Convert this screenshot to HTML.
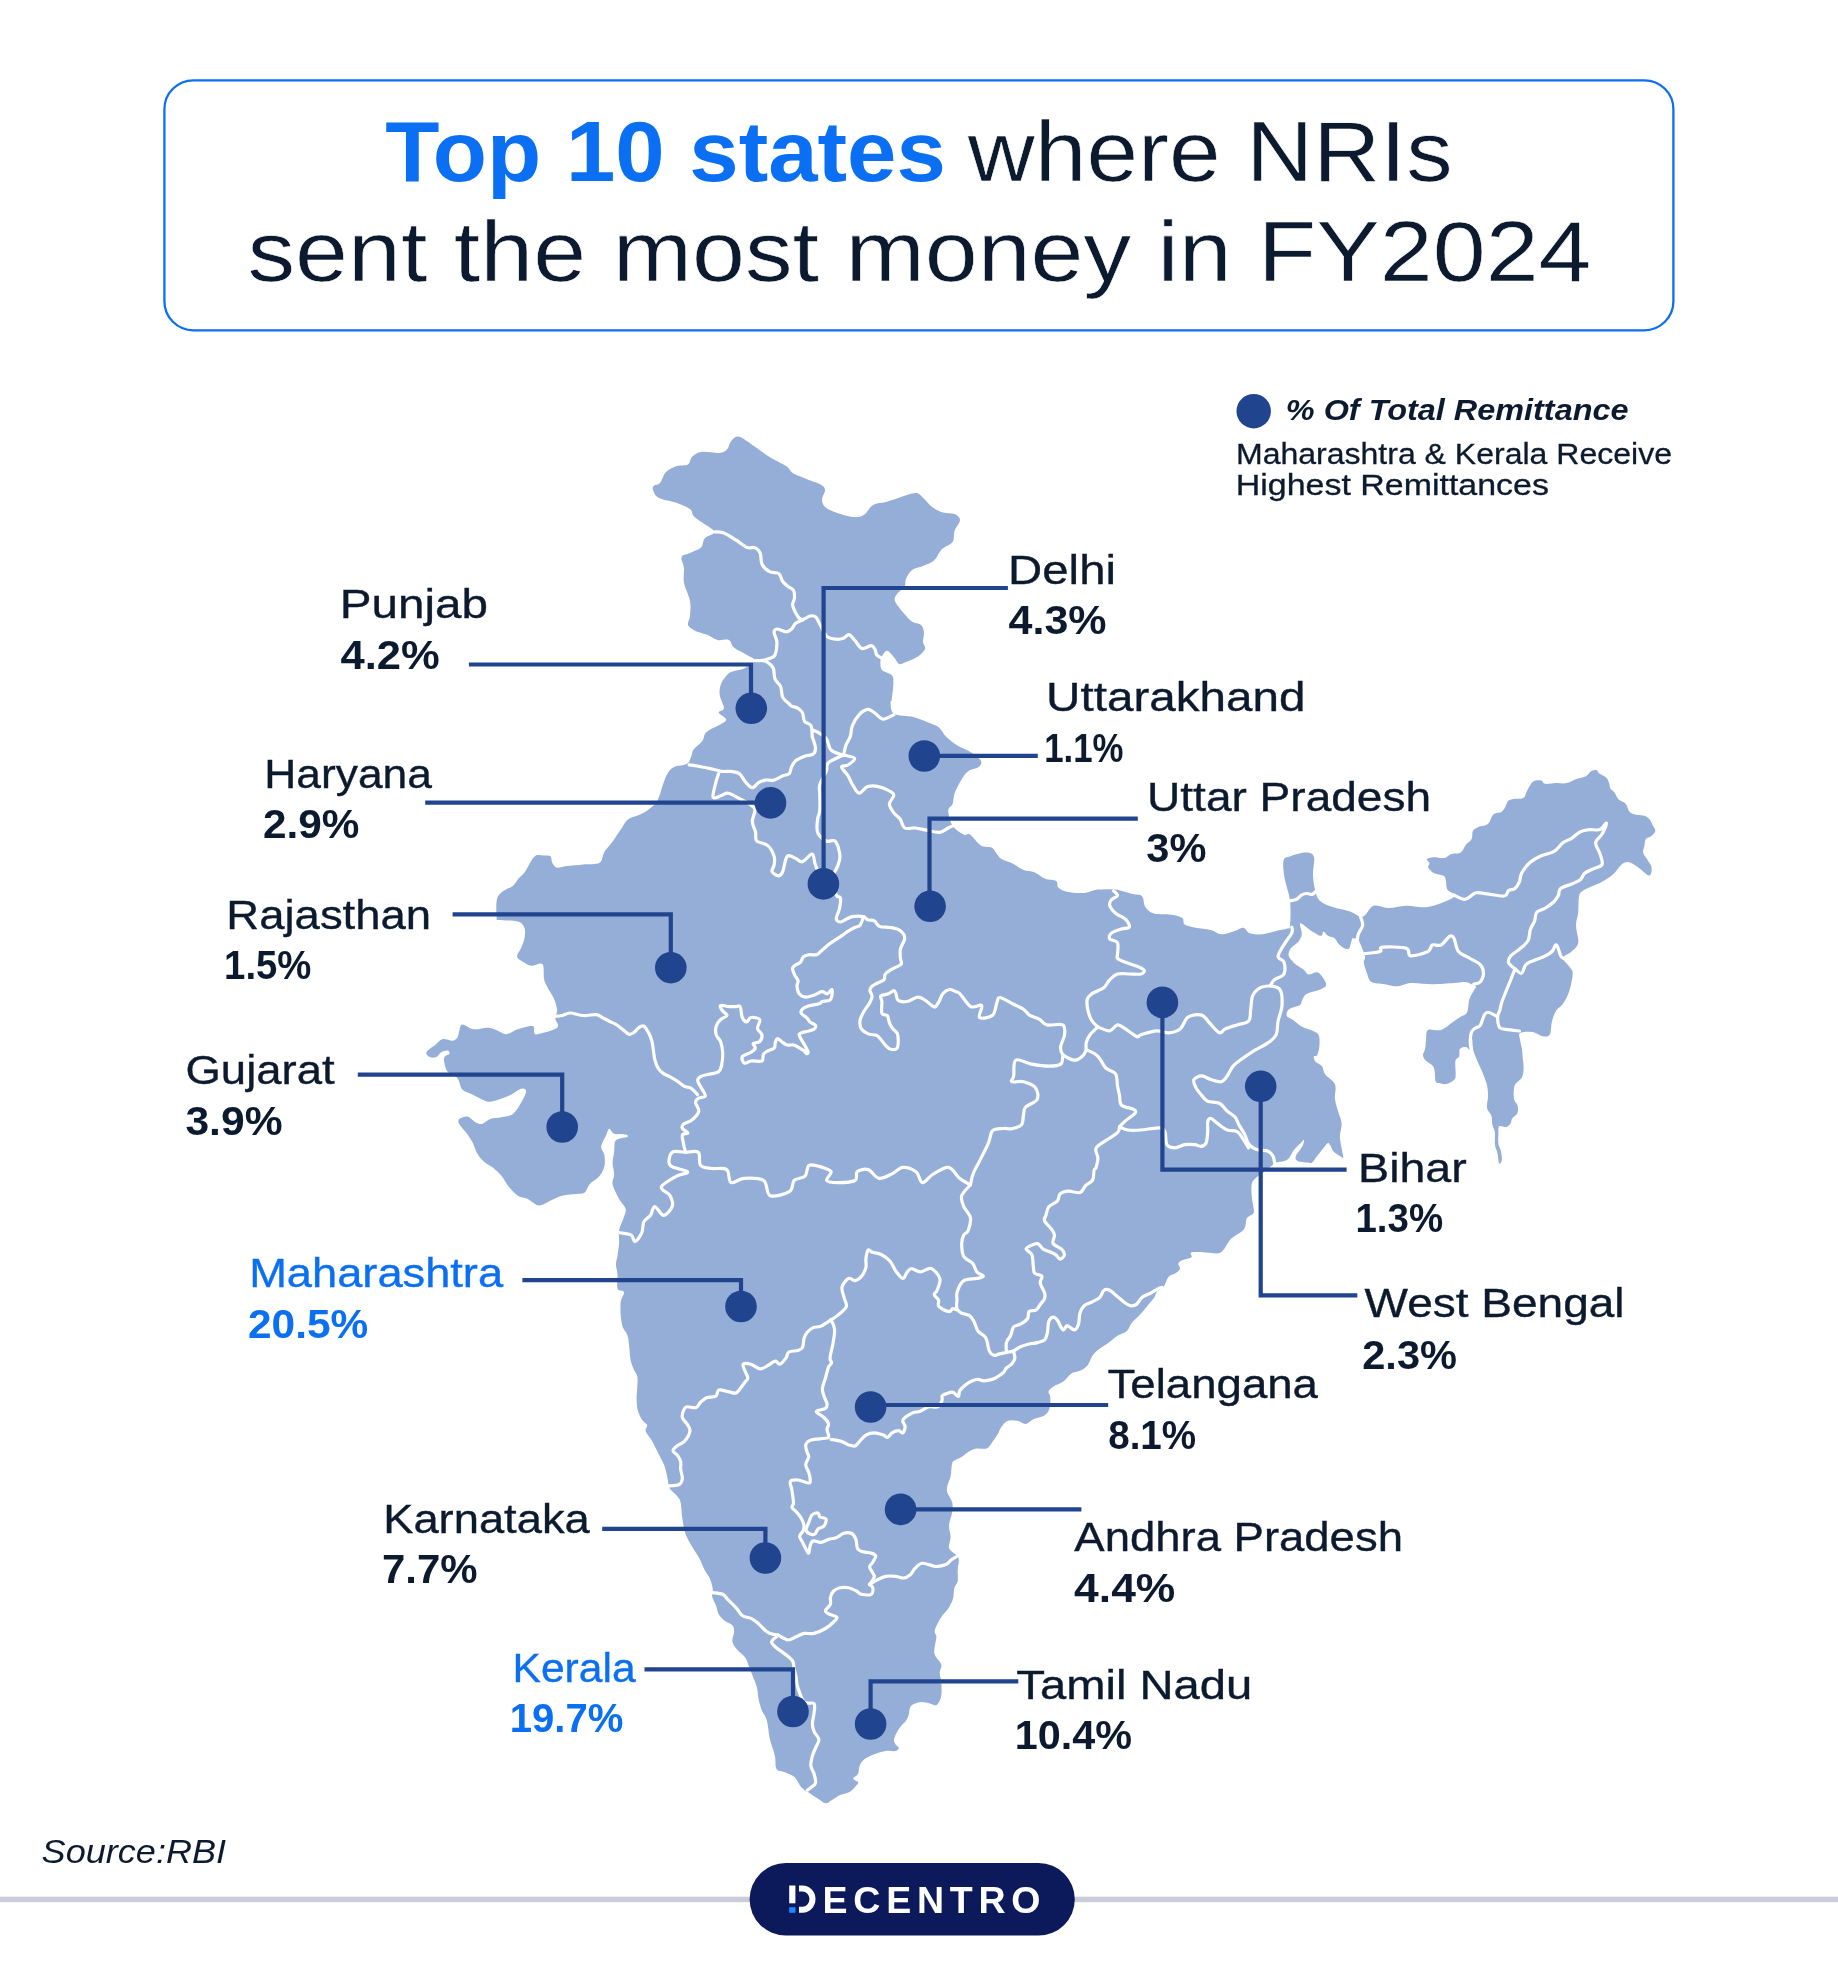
<!DOCTYPE html>
<html><head><meta charset="utf-8"><style>
html,body{margin:0;padding:0;background:#fff;}
body{width:1838px;height:1971px;overflow:hidden;}
svg{display:block;font-family:"Liberation Sans",sans-serif;will-change:transform;}
</style></head><body>
<svg width="1838" height="1971" viewBox="0 0 1838 1971" xmlns="http://www.w3.org/2000/svg">
<rect x="0" y="0" width="1838" height="1971" fill="#fff"/>
<rect x="164.4" y="80.3" width="1509" height="250" rx="29" ry="29" fill="none" stroke="#0b6ef4" stroke-width="2.3"/>
<text x="385.2" y="180.9" font-size="84.6" font-weight="700" fill="#0b6ff3" textLength="560.64" lengthAdjust="spacingAndGlyphs" >Top 10 states</text>
<text x="967.84" y="180.9" font-size="84.6" font-weight="400" fill="#0b1a2e" textLength="484.72" lengthAdjust="spacingAndGlyphs" stroke="#fff" stroke-width="0.6">where NRIs</text>
<text x="247.45" y="280.7" font-size="84.6" font-weight="400" fill="#0b1a2e" textLength="1344.14" lengthAdjust="spacingAndGlyphs" stroke="#fff" stroke-width="0.6">sent the most money in FY2024</text>
<circle cx="1253.7" cy="411.2" r="17.2" fill="#21448f"/>
<text x="1285.83" y="419.7" font-size="30" font-weight="700" font-style="italic" fill="#0b1a2e" textLength="342.67" lengthAdjust="spacingAndGlyphs" >% Of Total Remittance</text>
<text x="1235.97" y="463.8" font-size="28.9" font-weight="400" fill="#0b1a2e" textLength="436.05" lengthAdjust="spacingAndGlyphs" stroke="#0b1a2e" stroke-width="0.3">Maharashtra &amp; Kerala Receive</text>
<text x="1235.82" y="495.4" font-size="28.9" font-weight="400" fill="#0b1a2e" textLength="313.11" lengthAdjust="spacingAndGlyphs" stroke="#0b1a2e" stroke-width="0.3">Highest Remittances</text>
<path d="M738.0,436.6 C741.4,436.9 745.8,440.6 751.0,444.0 C756.2,447.4 763.7,453.3 769.5,457.0 C775.3,460.7 782.0,463.2 786.0,466.0 C790.0,468.8 790.1,471.4 793.5,473.6 C796.9,475.8 801.9,477.1 806.5,479.0 C811.1,480.9 817.9,482.9 821.0,484.7 C824.1,486.5 824.8,487.5 825.0,490.0 C825.2,492.5 822.0,496.7 822.0,499.5 C822.0,502.3 822.7,504.8 825.0,507.0 C827.3,509.2 831.4,510.8 836.0,512.5 C840.6,514.2 848.1,516.6 852.7,517.0 C857.3,517.4 860.4,517.0 863.8,515.0 C867.2,513.0 869.3,507.2 873.0,505.0 C876.7,502.8 881.7,503.2 886.0,502.0 C890.3,500.8 894.1,499.2 899.0,497.7 C903.9,496.2 911.6,493.0 915.6,493.0 C919.6,493.0 920.3,495.4 923.0,497.7 C925.7,500.0 928.7,504.5 932.0,507.0 C935.3,509.5 939.2,511.3 943.0,512.5 C946.8,513.7 951.7,512.8 954.5,514.0 C957.3,515.2 960.0,517.2 960.0,520.0 C960.0,522.8 955.7,527.3 954.5,531.0 C953.3,534.7 954.8,538.9 952.6,542.0 C950.4,545.1 944.6,546.4 941.5,549.5 C938.4,552.6 937.1,557.9 934.0,560.6 C930.9,563.4 926.7,564.4 923.0,566.0 C919.3,567.6 914.8,567.8 912.0,570.0 C909.2,572.2 907.2,576.2 906.0,579.0 C904.8,581.8 906.0,584.0 904.5,586.5 C903.0,589.0 898.6,591.6 897.0,594.0 C895.4,596.4 894.0,598.0 895.0,601.0 C896.0,604.0 899.9,608.6 902.7,612.0 C905.5,615.4 909.0,619.4 912.0,621.6 C915.0,623.8 919.0,623.1 921.0,625.0 C923.0,626.9 923.7,629.9 924.0,632.7 C924.3,635.5 922.8,639.3 923.0,642.0 C923.2,644.7 925.9,646.5 925.0,649.0 C924.1,651.5 920.7,654.6 917.5,656.8 C914.3,659.0 909.1,660.8 906.0,662.0 C902.9,663.2 900.8,664.6 899.0,664.0 C897.2,663.4 896.8,660.8 895.0,658.6 C893.2,656.4 889.8,651.9 888.0,651.0 C886.2,650.1 885.2,651.4 884.0,653.0 C882.8,654.6 880.8,657.7 880.5,660.5 C880.2,663.3 880.1,667.6 882.0,670.0 C883.9,672.4 889.7,672.9 891.6,675.0 C893.5,677.1 893.4,678.5 893.4,682.7 C893.4,686.9 892.1,696.8 891.6,700.0 C891.1,703.2 890.1,699.5 890.5,701.8 C890.9,704.1 890.0,711.2 893.8,713.7 C897.6,716.2 907.2,715.4 913.4,717.0 C919.6,718.6 926.4,721.7 930.8,723.5 C935.1,725.3 937.0,725.7 939.5,727.9 C942.0,730.1 943.1,733.7 946.0,736.6 C948.9,739.5 953.0,742.8 957.0,745.3 C961.0,747.8 966.0,749.3 970.0,751.8 C974.0,754.3 979.3,758.0 980.8,760.5 C982.2,763.0 980.9,765.2 978.7,767.0 C976.5,768.8 970.7,769.2 967.8,771.4 C964.9,773.6 963.5,776.4 961.3,780.0 C959.1,783.6 956.2,789.0 954.7,793.0 C953.2,797.0 953.7,801.1 952.6,804.0 C951.5,806.9 948.2,807.0 948.2,810.6 C948.2,814.2 950.1,821.8 952.6,825.8 C955.1,829.8 960.5,833.0 963.4,834.5 C966.3,836.0 967.1,832.7 970.0,834.5 C972.9,836.3 977.2,843.2 980.8,845.4 C984.4,847.6 988.9,846.0 991.7,847.6 C994.5,849.2 995.7,852.9 997.4,854.8 C999.1,856.7 999.3,857.8 1001.8,859.2 C1004.3,860.7 1009.0,861.7 1012.6,863.5 C1016.2,865.3 1019.9,868.5 1023.5,870.0 C1027.1,871.5 1030.8,870.7 1034.4,872.2 C1038.0,873.7 1041.7,877.3 1045.3,878.8 C1048.9,880.3 1054.0,879.5 1056.2,881.0 C1058.4,882.5 1056.5,885.7 1058.3,887.5 C1060.1,889.3 1062.6,890.9 1067.0,891.8 C1071.4,892.7 1079.4,893.3 1084.5,892.9 C1089.6,892.5 1092.4,890.1 1097.5,889.6 C1102.6,889.1 1109.2,888.9 1115.0,889.6 C1120.8,890.3 1127.8,892.9 1132.3,894.0 C1136.8,895.1 1139.8,894.0 1142.0,896.2 C1144.2,898.4 1143.4,904.1 1145.4,907.0 C1147.4,909.9 1149.7,912.3 1154.0,913.6 C1158.3,914.9 1166.8,914.0 1171.5,914.7 C1176.2,915.4 1180.2,916.4 1182.4,918.0 C1184.6,919.6 1182.4,922.9 1184.6,924.5 C1186.8,926.1 1191.1,926.8 1195.4,927.7 C1199.8,928.6 1206.3,928.9 1210.7,930.0 C1215.1,931.1 1217.6,934.1 1221.6,934.3 C1225.6,934.5 1231.0,932.1 1234.6,931.0 C1238.2,929.9 1240.8,927.3 1243.3,927.7 C1245.8,928.1 1246.6,932.1 1249.9,933.2 C1253.2,934.3 1258.7,934.7 1263.0,934.3 C1267.3,933.9 1272.0,931.9 1276.0,931.0 C1280.0,930.1 1284.6,929.7 1286.9,928.8 C1289.2,927.9 1289.5,930.2 1290.0,925.5 C1290.5,920.8 1290.9,908.3 1290.0,900.5 C1289.1,892.7 1285.8,885.5 1284.7,878.8 C1283.6,872.1 1282.5,864.1 1283.6,860.3 C1284.7,856.5 1287.4,857.2 1291.2,855.9 C1295.0,854.6 1302.6,852.4 1306.4,852.6 C1310.2,852.8 1312.9,853.4 1314.0,857.0 C1315.1,860.6 1312.8,869.0 1313.0,874.4 C1313.2,879.8 1313.9,885.2 1315.0,889.6 C1316.1,894.0 1316.6,897.6 1319.5,900.5 C1322.4,903.4 1327.5,905.2 1332.6,907.0 C1337.7,908.8 1345.0,909.8 1350.0,911.4 C1355.0,913.0 1358.8,917.6 1362.7,916.7 C1366.6,915.8 1369.2,907.2 1373.6,905.8 C1377.9,904.3 1383.4,908.0 1388.8,908.0 C1394.2,908.0 1399.7,906.0 1406.2,905.8 C1412.7,905.6 1420.0,908.4 1428.0,906.9 C1436.0,905.4 1450.8,900.0 1454.0,897.0 C1457.2,894.0 1448.6,892.1 1447.2,889.2 C1445.8,886.3 1446.5,882.0 1445.8,879.7 C1445.1,877.4 1445.1,876.7 1443.1,875.6 C1441.1,874.5 1436.1,874.2 1433.6,872.9 C1431.1,871.5 1428.9,869.1 1428.2,867.5 C1427.5,865.9 1429.7,864.8 1429.5,863.4 C1429.3,862.0 1426.1,860.3 1426.8,859.3 C1427.5,858.3 1430.6,857.5 1433.6,857.3 C1436.5,857.1 1441.5,858.5 1444.5,857.9 C1447.5,857.3 1448.6,854.8 1451.3,853.9 C1454.0,853.0 1458.3,854.1 1460.8,852.5 C1463.3,850.9 1464.4,846.6 1466.2,844.3 C1468.0,842.0 1470.6,841.2 1471.7,838.9 C1472.8,836.6 1471.7,832.8 1473.0,830.7 C1474.3,828.7 1477.3,827.7 1479.8,826.6 C1482.3,825.5 1485.7,825.9 1488.0,823.9 C1490.3,821.9 1491.1,816.4 1493.4,814.4 C1495.7,812.4 1499.5,813.1 1501.6,811.7 C1503.6,810.3 1504.6,808.0 1505.7,806.2 C1506.8,804.4 1506.8,802.0 1508.4,800.8 C1510.0,799.6 1512.7,799.2 1515.2,798.8 C1517.7,798.3 1521.4,799.6 1523.4,798.1 C1525.5,796.6 1525.9,792.6 1527.5,789.9 C1529.1,787.2 1530.6,783.4 1532.9,781.8 C1535.2,780.2 1539.1,780.1 1541.1,780.4 C1543.1,780.7 1542.6,783.3 1545.1,783.8 C1547.6,784.2 1552.4,783.2 1556.0,783.1 C1559.6,783.0 1563.5,783.8 1566.9,783.1 C1570.3,782.4 1573.2,780.1 1576.4,779.0 C1579.6,777.9 1583.4,777.6 1585.9,776.3 C1588.4,774.9 1589.6,771.9 1591.4,770.9 C1593.2,769.9 1595.5,769.8 1596.8,770.2 C1598.1,770.7 1597.9,772.4 1599.5,773.6 C1601.1,774.9 1604.8,776.1 1606.4,777.7 C1608.0,779.3 1608.4,781.3 1609.1,783.1 C1609.8,784.9 1609.5,787.0 1610.4,788.6 C1611.3,790.2 1613.1,790.8 1614.5,792.6 C1615.9,794.4 1616.8,797.6 1618.6,799.4 C1620.4,801.2 1623.6,801.5 1625.4,803.5 C1627.2,805.5 1627.9,809.9 1629.5,811.7 C1631.1,813.5 1632.4,813.7 1634.9,814.4 C1637.4,815.1 1641.9,814.9 1644.4,815.8 C1646.9,816.7 1648.5,818.2 1649.9,819.8 C1651.3,821.4 1651.7,823.5 1652.6,825.3 C1653.5,827.1 1655.5,828.9 1655.3,830.7 C1655.1,832.5 1652.8,834.8 1651.2,836.2 C1649.6,837.6 1646.9,837.3 1645.8,838.9 C1644.7,840.5 1644.9,843.4 1644.4,845.7 C1644.0,848.0 1642.6,850.2 1643.1,852.5 C1643.5,854.8 1645.8,857.0 1647.1,859.3 C1648.4,861.6 1650.5,863.8 1651.2,866.1 C1651.9,868.4 1651.7,871.3 1651.2,872.9 C1650.8,874.5 1649.8,875.8 1648.5,875.6 C1647.2,875.4 1645.1,873.1 1643.1,871.5 C1641.1,869.9 1638.8,867.7 1636.3,866.1 C1633.8,864.5 1630.6,862.2 1628.1,862.0 C1625.6,861.8 1623.6,862.9 1621.3,864.7 C1619.0,866.5 1616.8,870.6 1614.5,872.9 C1612.2,875.2 1610.0,876.7 1607.7,878.3 C1605.4,879.9 1603.6,881.0 1600.9,882.4 C1598.2,883.8 1594.4,885.1 1591.4,886.5 C1588.5,887.9 1585.2,889.0 1583.2,890.6 C1581.2,892.2 1579.9,892.4 1579.1,896.0 C1578.3,899.6 1578.7,907.4 1578.2,912.3 C1577.7,917.2 1576.0,920.3 1576.0,925.4 C1576.0,930.5 1578.9,938.4 1578.2,942.8 C1577.5,947.1 1574.1,949.0 1571.6,951.5 C1569.1,954.0 1563.4,955.5 1563.0,958.0 C1562.6,960.5 1567.8,964.2 1569.4,966.7 C1571.0,969.2 1572.7,969.3 1572.7,973.3 C1572.7,977.3 1571.0,985.6 1569.4,990.7 C1567.8,995.8 1565.2,1000.4 1563.0,1003.7 C1560.8,1007.0 1558.2,1007.4 1556.4,1010.3 C1554.6,1013.2 1553.1,1017.2 1552.0,1021.2 C1550.9,1025.2 1551.4,1031.7 1549.9,1034.2 C1548.5,1036.7 1546.2,1036.8 1543.3,1036.4 C1540.4,1036.0 1536.3,1032.6 1532.4,1032.0 C1528.5,1031.4 1522.1,1031.7 1520.1,1033.0 C1518.0,1034.3 1519.8,1037.4 1520.1,1040.0 C1520.4,1042.6 1521.5,1045.8 1521.9,1048.7 C1522.3,1051.6 1522.4,1054.1 1522.7,1057.4 C1523.0,1060.7 1523.7,1065.4 1523.6,1068.7 C1523.5,1072.0 1523.2,1074.9 1521.9,1077.4 C1520.6,1079.9 1517.1,1081.6 1515.8,1083.5 C1514.5,1085.4 1514.3,1086.1 1514.0,1088.7 C1513.7,1091.3 1513.4,1096.4 1514.0,1099.2 C1514.6,1102.0 1516.9,1103.0 1517.5,1105.3 C1518.1,1107.6 1518.4,1110.9 1517.5,1113.1 C1516.6,1115.3 1513.5,1116.5 1512.3,1118.3 C1511.1,1120.0 1511.6,1122.1 1510.6,1123.6 C1509.6,1125.0 1508.1,1126.6 1506.2,1127.0 C1504.3,1127.4 1500.5,1125.3 1499.2,1126.2 C1497.9,1127.1 1498.5,1129.4 1498.4,1132.3 C1498.3,1135.2 1498.0,1140.4 1498.4,1143.6 C1498.8,1146.8 1500.4,1148.7 1501.0,1151.4 C1501.6,1154.1 1502.1,1158.0 1501.8,1160.0 C1501.5,1162.0 1499.9,1164.7 1499.2,1163.6 C1498.5,1162.5 1498.2,1156.4 1497.5,1153.2 C1496.8,1150.0 1495.3,1148.0 1494.9,1144.5 C1494.5,1141.0 1495.3,1135.6 1494.9,1132.3 C1494.5,1129.0 1492.9,1127.2 1492.3,1124.4 C1491.7,1121.6 1492.3,1118.4 1491.4,1115.7 C1490.5,1113.0 1487.6,1111.2 1487.0,1108.0 C1486.4,1104.8 1488.0,1100.4 1488.0,1096.6 C1488.0,1092.8 1487.9,1089.2 1487.0,1085.3 C1486.1,1081.4 1484.4,1077.3 1482.7,1073.0 C1481.0,1068.7 1478.2,1063.1 1476.6,1059.2 C1475.0,1055.3 1473.8,1052.8 1473.1,1049.6 C1472.4,1046.4 1472.6,1042.3 1472.3,1040.0 C1472.0,1037.7 1471.6,1036.0 1471.0,1036.0 C1470.4,1036.0 1469.0,1037.7 1468.8,1040.0 C1468.6,1042.3 1470.0,1048.4 1469.6,1049.6 C1469.2,1050.8 1467.8,1047.2 1466.2,1047.0 C1464.6,1046.8 1461.2,1047.1 1460.0,1048.7 C1458.8,1050.3 1459.9,1054.6 1459.2,1056.5 C1458.5,1058.4 1456.4,1058.4 1455.7,1060.0 C1455.0,1061.6 1455.3,1063.5 1455.3,1066.0 C1455.3,1068.5 1455.9,1072.5 1455.7,1074.8 C1455.5,1077.1 1455.6,1078.5 1454.0,1080.0 C1452.4,1081.5 1448.6,1083.5 1446.1,1084.0 C1443.6,1084.5 1440.9,1083.4 1439.2,1083.0 C1437.5,1082.6 1436.4,1083.5 1435.7,1081.8 C1435.0,1080.1 1435.2,1075.6 1434.8,1073.0 C1434.3,1070.4 1434.6,1068.2 1433.0,1066.0 C1431.4,1063.8 1426.9,1061.9 1425.2,1060.0 C1423.5,1058.1 1423.0,1056.7 1423.0,1054.8 C1423.0,1052.9 1424.7,1051.2 1425.2,1048.7 C1425.7,1046.2 1425.5,1043.1 1426.0,1040.0 C1426.5,1036.9 1425.5,1031.6 1428.0,1029.9 C1430.5,1028.2 1436.7,1031.4 1441.0,1029.9 C1445.3,1028.5 1450.7,1023.4 1454.0,1021.2 C1457.3,1019.0 1458.4,1018.2 1460.6,1016.8 C1462.8,1015.3 1465.5,1015.4 1467.0,1012.5 C1468.5,1009.6 1468.2,1003.0 1469.3,999.4 C1470.4,995.8 1472.6,992.9 1473.7,990.7 C1474.8,988.5 1476.3,987.4 1475.9,986.3 C1475.5,985.2 1473.3,984.9 1471.5,984.2 C1469.7,983.5 1467.9,982.2 1465.0,982.0 C1462.1,981.8 1459.5,982.6 1454.0,983.0 C1448.5,983.4 1439.5,984.2 1432.3,984.2 C1425.1,984.2 1416.4,982.6 1410.6,983.0 C1404.8,983.4 1401.8,986.1 1397.5,986.3 C1393.2,986.5 1388.8,984.9 1384.5,984.2 C1380.2,983.5 1374.3,983.8 1371.4,982.0 C1368.5,980.2 1368.3,976.6 1367.0,973.3 C1365.7,970.0 1364.1,965.3 1363.8,962.4 C1363.5,959.5 1365.8,959.6 1364.9,955.9 C1364.0,952.2 1360.2,942.9 1358.4,940.0 C1356.6,937.1 1355.0,938.7 1354.0,938.4 C1353.0,938.1 1352.9,937.4 1352.3,938.4 C1351.7,939.4 1351.1,942.8 1350.5,944.5 C1349.9,946.2 1350.0,948.2 1348.8,948.8 C1347.6,949.4 1345.3,948.9 1343.6,948.0 C1341.8,947.1 1339.8,945.2 1338.3,943.6 C1336.8,942.0 1336.6,939.7 1334.9,938.4 C1333.2,937.1 1329.9,937.0 1328.0,935.8 C1326.1,934.6 1324.7,931.4 1323.5,931.4 C1322.3,931.4 1322.9,935.8 1321.0,935.8 C1319.1,935.8 1314.8,933.0 1312.2,931.4 C1309.6,929.8 1307.3,927.5 1305.3,926.2 C1303.3,924.9 1300.6,922.3 1300.0,923.6 C1299.4,924.9 1302.1,931.0 1301.8,934.0 C1301.5,937.0 1300.2,939.3 1298.3,941.8 C1296.4,944.3 1292.1,946.5 1290.5,948.8 C1288.9,951.1 1288.3,953.6 1288.7,955.8 C1289.1,958.0 1291.6,960.2 1293.1,961.9 C1294.6,963.6 1295.8,964.4 1297.7,965.8 C1299.6,967.2 1302.5,968.8 1304.3,970.2 C1306.1,971.7 1306.4,974.1 1308.6,974.5 C1310.8,974.9 1314.8,971.6 1317.3,972.3 C1319.8,973.0 1322.3,976.7 1323.8,978.9 C1325.2,981.1 1326.7,983.6 1326.0,985.4 C1325.3,987.2 1322.8,988.3 1319.5,989.7 C1316.2,991.1 1309.3,992.2 1306.4,994.0 C1303.5,995.8 1303.1,998.8 1302.0,1000.6 C1300.9,1002.4 1302.2,1003.5 1300.0,1005.0 C1297.8,1006.5 1291.2,1007.5 1289.0,1009.3 C1286.8,1011.1 1286.1,1014.1 1286.8,1015.9 C1287.5,1017.7 1290.9,1018.4 1293.4,1020.2 C1295.9,1022.0 1298.0,1024.5 1302.0,1026.7 C1306.0,1028.9 1314.4,1030.4 1317.3,1033.3 C1320.2,1036.2 1319.5,1040.6 1319.5,1044.2 C1319.5,1047.8 1318.2,1053.0 1317.3,1055.0 C1316.3,1057.0 1314.1,1055.4 1313.8,1056.5 C1313.5,1057.6 1314.0,1059.8 1315.4,1061.4 C1316.8,1063.0 1320.4,1064.1 1322.0,1066.3 C1323.6,1068.5 1323.0,1071.5 1325.2,1074.5 C1327.4,1077.5 1333.4,1080.2 1335.0,1084.3 C1336.6,1088.4 1334.5,1094.4 1335.0,1099.0 C1335.5,1103.6 1337.2,1107.9 1338.3,1112.0 C1339.4,1116.1 1341.3,1119.3 1341.6,1123.4 C1341.9,1127.5 1339.9,1132.4 1339.9,1136.5 C1339.9,1140.6 1341.0,1144.5 1341.6,1148.0 C1342.1,1151.5 1343.5,1156.4 1343.2,1157.7 C1342.9,1159.0 1341.5,1157.2 1339.9,1156.1 C1338.3,1155.0 1335.3,1153.4 1333.4,1151.2 C1331.5,1149.0 1330.1,1143.5 1328.5,1143.0 C1326.9,1142.5 1325.5,1145.7 1323.6,1147.9 C1321.7,1150.1 1319.0,1153.6 1317.1,1156.1 C1315.2,1158.5 1313.8,1161.5 1312.2,1162.6 C1310.6,1163.7 1309.8,1162.9 1307.3,1162.6 C1304.8,1162.3 1299.4,1162.1 1297.5,1161.0 C1295.6,1159.9 1295.1,1158.5 1295.9,1156.1 C1296.7,1153.6 1301.1,1149.0 1302.4,1146.3 C1303.8,1143.6 1304.3,1140.3 1304.0,1139.8 C1303.7,1139.2 1302.3,1141.4 1300.7,1143.0 C1299.1,1144.6 1296.1,1147.1 1294.2,1149.6 C1292.3,1152.0 1290.9,1155.8 1289.3,1157.7 C1287.7,1159.6 1286.6,1160.2 1284.4,1161.0 C1282.2,1161.8 1278.5,1161.8 1276.3,1162.6 C1274.1,1163.4 1273.6,1164.3 1271.4,1165.9 C1269.2,1167.5 1265.7,1170.5 1263.2,1172.4 C1260.8,1174.3 1258.6,1175.4 1256.7,1177.3 C1254.8,1179.2 1252.6,1180.5 1251.8,1183.8 C1251.0,1187.1 1251.5,1193.1 1251.8,1196.9 C1252.1,1200.7 1253.1,1204.0 1253.4,1206.7 C1253.7,1209.4 1254.5,1211.3 1253.4,1213.2 C1252.3,1215.1 1248.2,1215.9 1246.9,1218.1 C1245.6,1220.3 1246.1,1224.1 1245.3,1226.3 C1244.5,1228.5 1244.5,1229.0 1242.0,1231.2 C1239.5,1233.4 1234.1,1235.8 1230.6,1239.3 C1227.1,1242.8 1224.9,1250.2 1220.8,1252.4 C1216.7,1254.6 1211.0,1252.4 1206.1,1252.4 C1201.2,1252.4 1193.9,1251.6 1191.4,1252.4 C1189.0,1253.2 1193.0,1256.0 1191.4,1257.3 C1189.8,1258.6 1183.8,1259.4 1181.6,1260.5 C1179.4,1261.6 1178.6,1262.4 1178.3,1263.8 C1178.0,1265.2 1180.5,1267.1 1180.0,1268.7 C1179.5,1270.3 1177.0,1272.2 1175.1,1273.6 C1173.2,1275.0 1170.4,1274.7 1168.5,1276.9 C1166.6,1279.1 1165.6,1284.2 1163.7,1286.7 C1161.8,1289.2 1158.7,1289.7 1157.1,1291.6 C1155.5,1293.5 1155.8,1295.4 1153.9,1298.1 C1152.0,1300.8 1148.0,1305.1 1145.7,1307.9 C1143.4,1310.7 1142.2,1312.2 1139.9,1314.7 C1137.6,1317.2 1134.0,1320.1 1131.8,1322.8 C1129.6,1325.5 1129.4,1328.8 1126.9,1331.0 C1124.5,1333.2 1120.1,1334.0 1117.1,1335.9 C1114.1,1337.8 1111.9,1340.2 1108.9,1342.4 C1105.9,1344.6 1101.8,1346.8 1099.1,1349.0 C1096.4,1351.2 1094.5,1352.8 1092.6,1355.5 C1090.7,1358.2 1089.6,1362.8 1087.7,1365.3 C1085.8,1367.8 1083.9,1368.8 1081.2,1370.2 C1078.5,1371.6 1074.4,1371.5 1071.4,1373.4 C1068.4,1375.3 1066.2,1379.4 1063.2,1381.6 C1060.2,1383.8 1055.9,1384.9 1053.4,1386.5 C1051.0,1388.1 1049.0,1389.8 1048.5,1391.4 C1048.0,1393.0 1049.9,1394.1 1050.2,1396.3 C1050.5,1398.5 1050.5,1402.0 1050.2,1404.5 C1049.9,1407.0 1049.6,1409.1 1048.5,1411.0 C1047.4,1412.9 1046.0,1414.6 1043.6,1415.9 C1041.1,1417.2 1036.8,1417.8 1033.8,1419.1 C1030.8,1420.4 1028.4,1423.7 1025.7,1424.0 C1023.0,1424.3 1020.5,1421.3 1017.5,1420.8 C1014.5,1420.3 1010.4,1419.7 1007.7,1420.8 C1005.0,1421.9 1002.8,1425.1 1001.2,1427.3 C999.6,1429.5 999.5,1431.1 997.9,1433.8 C996.3,1436.5 993.3,1441.1 991.4,1443.6 C989.5,1446.0 989.0,1447.7 986.5,1448.5 C984.0,1449.3 979.7,1448.0 976.7,1448.5 C973.7,1449.0 971.0,1450.4 968.5,1451.8 C966.0,1453.2 964.2,1455.3 962.0,1456.7 C959.8,1458.1 957.1,1458.9 955.5,1460.0 C953.9,1461.1 953.0,1460.5 952.2,1463.2 C951.4,1465.9 951.4,1472.5 950.6,1476.3 C949.8,1480.1 947.8,1483.4 947.3,1486.1 C946.8,1488.8 946.5,1489.9 947.3,1492.6 C948.1,1495.3 951.4,1499.1 952.2,1502.4 C953.0,1505.7 952.7,1508.4 952.2,1512.2 C951.7,1516.0 949.3,1521.1 949.0,1525.2 C948.7,1529.3 950.6,1532.9 950.6,1536.7 C950.6,1540.5 948.2,1545.1 949.0,1548.1 C949.8,1551.1 953.9,1552.7 955.5,1554.6 C957.1,1556.5 958.4,1557.0 958.8,1559.5 C959.2,1562.0 957.9,1566.2 957.7,1569.8 C957.5,1573.4 958.2,1578.2 957.7,1581.2 C957.2,1584.2 955.2,1584.7 954.4,1587.7 C953.6,1590.7 953.9,1595.7 952.8,1599.2 C951.7,1602.8 949.8,1606.0 947.9,1609.0 C946.0,1612.0 943.5,1613.6 941.3,1617.1 C939.1,1620.6 935.6,1626.9 934.8,1630.2 C934.0,1633.5 936.4,1634.0 936.4,1636.7 C936.4,1639.4 935.1,1643.5 934.8,1646.5 C934.5,1649.5 933.7,1651.7 934.8,1654.7 C935.9,1657.7 940.5,1661.5 941.3,1664.5 C942.1,1667.5 939.7,1669.6 939.7,1672.6 C939.7,1675.6 941.0,1678.6 941.3,1682.4 C941.6,1686.2 941.8,1692.0 941.3,1695.5 C940.8,1699.0 939.2,1702.0 938.1,1703.6 C937.0,1705.2 936.2,1705.3 934.8,1705.3 C933.4,1705.3 932.1,1704.1 929.9,1703.6 C927.7,1703.0 924.2,1702.0 921.8,1702.0 C919.3,1702.0 917.1,1702.8 915.2,1703.6 C913.3,1704.4 911.4,1705.0 910.3,1706.9 C909.2,1708.8 909.5,1712.5 908.7,1715.0 C907.9,1717.5 906.5,1720.0 905.4,1721.6 C904.3,1723.2 903.6,1723.2 902.2,1724.8 C900.9,1726.4 898.7,1729.0 897.3,1731.4 C895.9,1733.9 894.3,1737.3 894.0,1739.5 C893.7,1741.7 894.8,1743.0 895.6,1744.4 C896.4,1745.8 898.9,1746.6 898.9,1747.7 C898.9,1748.8 897.8,1750.5 895.6,1751.0 C893.4,1751.5 889.4,1750.5 885.9,1751.0 C882.4,1751.5 877.9,1752.9 874.4,1754.2 C870.9,1755.5 867.0,1757.2 864.6,1759.1 C862.2,1761.0 860.8,1763.1 859.7,1765.6 C858.6,1768.0 859.2,1771.6 858.1,1773.8 C857.0,1776.0 853.2,1777.3 853.2,1778.7 C853.2,1780.1 857.6,1780.9 858.1,1782.0 C858.6,1783.1 857.9,1783.6 856.5,1785.2 C855.1,1786.8 852.7,1790.2 850.0,1791.8 C847.3,1793.4 843.2,1793.7 840.2,1795.0 C837.2,1796.3 834.5,1798.5 832.0,1799.9 C829.5,1801.3 828.0,1803.5 825.5,1803.2 C823.0,1802.9 820.3,1800.2 817.3,1798.3 C814.3,1796.4 810.2,1793.7 807.5,1791.8 C804.8,1789.9 803.2,1789.4 801.0,1786.9 C798.8,1784.5 797.2,1779.5 794.5,1777.1 C791.8,1774.6 787.7,1773.6 784.7,1772.2 C781.7,1770.8 778.1,1771.6 776.5,1768.9 C774.9,1766.2 776.0,1760.8 774.9,1755.9 C773.8,1751.0 771.4,1745.5 770.0,1739.5 C768.6,1733.5 768.1,1724.9 766.7,1720.0 C765.3,1715.1 763.2,1713.8 761.8,1710.2 C760.4,1706.7 759.3,1702.5 758.5,1698.7 C757.7,1694.9 758.0,1691.4 756.9,1687.3 C755.8,1683.2 753.4,1677.7 752.0,1674.2 C750.6,1670.7 749.9,1668.8 748.8,1666.1 C747.7,1663.4 747.4,1660.6 745.5,1657.9 C743.6,1655.2 739.5,1652.5 737.3,1649.8 C735.1,1647.1 732.9,1644.6 732.4,1641.6 C731.9,1638.6 734.1,1634.5 734.1,1631.8 C734.1,1629.1 734.0,1627.2 732.4,1625.3 C730.8,1623.4 726.6,1622.3 724.3,1620.4 C722.0,1618.5 720.0,1616.4 718.6,1613.9 C717.2,1611.5 717.2,1608.7 716.1,1605.7 C715.0,1602.7 712.5,1598.6 712.0,1595.9 C711.5,1593.2 713.1,1592.2 712.8,1589.4 C712.5,1586.6 711.4,1582.3 710.0,1579.0 C708.6,1575.7 706.3,1573.3 704.5,1569.8 C702.7,1566.2 701.2,1561.8 699.0,1557.7 C696.8,1553.7 693.7,1549.6 691.4,1545.5 C689.1,1541.4 686.8,1537.9 685.3,1533.3 C683.8,1528.7 683.1,1523.1 682.3,1518.0 C681.5,1512.9 681.5,1506.3 680.7,1502.8 C679.9,1499.2 679.5,1499.0 677.7,1496.7 C675.9,1494.4 671.6,1491.1 670.1,1489.1 C668.6,1487.1 669.1,1486.8 668.6,1484.5 C668.1,1482.2 667.8,1478.7 667.0,1475.4 C666.2,1472.1 665.5,1468.5 664.0,1464.7 C662.5,1460.9 659.9,1456.5 657.9,1452.5 C655.9,1448.5 653.8,1444.0 651.8,1440.4 C649.8,1436.9 646.5,1433.8 645.7,1431.2 C644.9,1428.7 647.7,1426.9 647.2,1425.1 C646.7,1423.3 644.2,1422.8 642.7,1420.5 C641.2,1418.2 639.1,1415.0 638.1,1411.4 C637.1,1407.9 636.7,1403.3 636.6,1399.2 C636.5,1395.1 637.2,1390.8 637.3,1387.0 C637.4,1383.2 637.9,1379.4 637.3,1376.4 C636.7,1373.4 634.6,1371.6 633.5,1368.8 C632.4,1366.0 631.2,1363.7 630.5,1359.6 C629.8,1355.5 629.5,1348.5 629.0,1344.4 C628.5,1340.3 628.4,1338.0 627.4,1335.2 C626.4,1332.4 623.9,1330.1 622.9,1327.6 C621.9,1325.1 621.7,1322.1 621.3,1320.0 C620.9,1317.9 620.8,1317.8 620.7,1314.8 C620.6,1311.8 620.2,1305.6 620.7,1301.8 C621.2,1298.0 624.5,1294.2 624.0,1292.0 C623.5,1289.8 618.6,1291.7 617.5,1288.7 C616.4,1285.7 617.8,1278.1 617.5,1274.0 C617.2,1269.9 615.9,1267.2 615.9,1264.2 C615.9,1261.2 617.0,1259.5 617.5,1256.0 C618.0,1252.5 618.8,1247.3 619.1,1243.0 C619.4,1238.7 618.3,1234.3 619.1,1230.0 C619.9,1225.7 622.9,1220.5 624.0,1216.9 C625.1,1213.4 626.4,1211.7 625.6,1208.7 C624.8,1205.7 621.3,1203.0 619.1,1198.9 C616.9,1194.8 613.4,1188.3 612.6,1184.2 C611.8,1180.1 614.2,1178.0 614.2,1174.5 C614.2,1171.0 612.6,1166.8 612.6,1163.0 C612.6,1159.2 613.7,1155.4 614.2,1151.6 C614.8,1147.8 613.7,1142.7 615.9,1140.2 C618.1,1137.8 625.7,1137.9 627.3,1136.9 C628.9,1136.0 627.8,1135.0 625.6,1134.5 C623.4,1134.0 616.9,1134.7 614.2,1133.7 C611.5,1132.8 610.6,1128.5 609.3,1128.8 C607.9,1129.1 607.5,1132.3 606.1,1135.3 C604.8,1138.3 601.5,1143.4 601.2,1146.7 C600.9,1150.0 603.9,1151.6 604.4,1154.9 C604.9,1158.2 605.2,1162.8 604.4,1166.3 C603.6,1169.8 602.0,1173.1 599.5,1176.1 C597.0,1179.1 592.2,1181.5 589.7,1184.2 C587.2,1186.9 587.0,1190.8 584.8,1192.4 C582.6,1194.0 580.5,1193.5 576.7,1194.0 C572.9,1194.5 566.4,1194.6 562.0,1195.7 C557.6,1196.8 554.4,1199.0 550.6,1200.6 C546.8,1202.2 542.9,1205.8 539.1,1205.5 C535.3,1205.2 531.2,1200.5 527.7,1198.9 C524.2,1197.3 521.2,1197.9 517.9,1195.7 C514.6,1193.5 510.8,1189.2 508.1,1185.9 C505.4,1182.6 504.1,1179.1 501.6,1176.1 C499.2,1173.1 496.4,1170.5 493.4,1168.0 C490.4,1165.5 486.4,1163.9 483.7,1161.4 C481.0,1158.9 479.0,1156.5 477.1,1153.2 C475.2,1149.9 474.1,1145.3 472.2,1141.8 C470.3,1138.3 467.9,1135.0 465.7,1132.0 C463.5,1129.0 460.3,1126.1 459.2,1123.9 C458.1,1121.7 457.8,1120.2 459.2,1119.0 C460.6,1117.8 464.6,1116.0 467.3,1116.5 C470.0,1117.0 473.1,1121.0 475.5,1122.2 C477.9,1123.4 479.6,1124.4 482.0,1123.9 C484.4,1123.4 486.9,1120.1 490.2,1119.0 C493.5,1117.9 497.8,1118.1 501.6,1117.3 C505.4,1116.5 509.7,1116.5 513.0,1114.0 C516.3,1111.5 519.0,1106.4 521.2,1102.6 C523.4,1098.8 526.1,1093.5 526.1,1091.2 C526.1,1088.9 523.7,1088.2 521.2,1088.8 C518.8,1089.3 514.7,1092.9 511.4,1094.5 C508.1,1096.1 505.1,1097.4 501.6,1098.6 C498.1,1099.8 493.5,1101.7 490.2,1101.8 C486.9,1101.9 485.0,1100.6 482.0,1099.4 C479.0,1098.2 475.5,1096.1 472.2,1094.5 C468.9,1092.9 464.8,1092.3 462.4,1089.6 C459.9,1086.9 459.9,1081.2 457.5,1078.2 C455.1,1075.2 449.9,1074.2 447.7,1071.8 C445.5,1069.4 445.0,1066.0 444.5,1063.6 C444.0,1061.1 443.7,1058.7 444.5,1057.1 C445.3,1055.5 448.9,1054.9 449.4,1053.8 C449.9,1052.7 449.1,1050.8 447.7,1050.5 C446.3,1050.2 443.1,1051.1 441.2,1052.2 C439.3,1053.3 438.2,1056.3 436.3,1057.1 C434.4,1057.9 431.4,1057.9 429.8,1057.1 C428.2,1056.3 425.4,1054.4 426.5,1052.2 C427.6,1050.0 433.6,1046.2 436.3,1044.0 C439.0,1041.8 440.1,1039.6 442.8,1039.1 C445.5,1038.5 450.2,1041.0 452.6,1040.7 C455.1,1040.4 456.4,1039.1 457.5,1037.5 C458.6,1035.9 458.4,1033.2 459.2,1031.0 C460.0,1028.8 459.9,1024.7 462.4,1024.4 C464.8,1024.1 469.5,1028.8 473.9,1029.3 C478.2,1029.8 484.4,1027.4 488.5,1027.7 C492.6,1028.0 495.3,1029.9 498.3,1031.0 C501.3,1032.1 503.2,1034.5 506.5,1034.2 C509.8,1033.9 513.5,1030.7 517.9,1029.3 C522.2,1027.9 529.9,1025.5 532.6,1026.0 C535.3,1026.5 533.4,1031.2 534.2,1032.6 C535.0,1034.0 533.7,1035.0 537.5,1034.2 C541.3,1033.4 554.1,1030.2 557.1,1027.7 C560.1,1025.2 555.8,1021.4 555.5,1019.5 C555.2,1017.6 555.2,1017.9 555.5,1016.3 C555.8,1014.7 557.4,1012.7 557.1,1009.7 C556.8,1006.7 555.4,1002.1 553.8,998.3 C552.2,994.5 548.9,990.2 547.3,986.9 C545.7,983.6 544.8,982.5 544.0,978.7 C543.2,974.9 544.6,966.2 542.4,964.0 C540.2,961.8 534.5,966.2 531.0,965.7 C527.5,965.2 523.5,962.4 521.2,960.8 C518.9,959.2 517.1,958.1 517.1,955.9 C517.1,953.7 520.0,950.7 521.2,947.7 C522.4,944.7 524.0,941.2 524.5,937.9 C525.0,934.6 525.6,930.8 524.5,928.1 C523.4,925.4 522.4,923.0 518.0,921.6 C513.6,920.2 501.9,920.5 498.3,920.0 C494.8,919.5 497.0,921.6 496.7,918.3 C496.4,915.0 495.9,904.8 496.7,900.4 C497.5,896.0 498.9,894.7 501.6,892.2 C504.3,889.8 510.3,887.9 513.0,885.7 C515.7,883.5 516.1,881.4 518.0,879.2 C519.9,877.0 522.3,875.6 524.5,872.6 C526.7,869.6 529.1,864.1 531.0,861.2 C532.9,858.4 533.7,856.5 535.9,855.5 C538.1,854.5 541.5,855.4 544.0,855.5 C546.5,855.6 549.2,855.1 550.6,856.3 C552.0,857.5 551.1,860.9 552.2,862.8 C553.3,864.7 554.7,867.2 557.1,867.7 C559.5,868.2 562.5,866.6 566.9,866.1 C571.2,865.6 577.8,865.0 583.2,864.5 C588.6,864.0 596.0,864.9 599.5,862.8 C603.0,860.7 602.1,855.6 604.4,852.0 C606.6,848.4 610.1,845.0 613.0,841.0 C615.9,837.0 619.2,831.6 621.8,828.0 C624.3,824.4 624.7,821.8 628.3,819.3 C631.9,816.8 638.8,815.7 643.5,812.8 C648.2,809.9 653.4,806.6 656.6,801.9 C659.9,797.2 661.2,789.2 663.0,784.5 C664.8,779.8 665.7,776.5 667.5,773.6 C669.3,770.7 670.8,768.6 674.0,767.0 C677.2,765.4 684.1,765.6 687.0,763.8 C689.9,762.0 690.3,758.4 691.4,756.0 C692.5,753.6 691.8,752.1 693.6,749.6 C695.4,747.1 700.1,743.9 702.3,741.0 C704.5,738.1 703.3,734.9 706.6,732.0 C709.9,729.1 718.7,725.7 721.9,723.5 C725.1,721.3 726.5,720.8 726.0,719.0 C725.5,717.2 718.9,714.4 718.6,712.6 C718.3,710.8 723.8,711.2 724.0,708.3 C724.2,705.4 720.2,699.0 719.7,695.0 C719.2,691.0 719.6,687.7 720.8,684.4 C722.0,681.1 725.0,677.1 727.0,675.0 C729.0,672.9 729.5,672.8 732.5,671.6 C735.5,670.4 741.3,669.9 745.0,668.0 C748.7,666.1 754.4,662.7 754.7,660.5 C755.0,658.3 750.5,657.2 747.0,655.0 C743.5,652.8 737.0,650.0 734.0,647.5 C731.0,645.0 731.5,641.2 728.8,640.0 C726.1,638.8 721.4,640.9 717.7,640.0 C714.0,639.1 710.3,636.1 706.6,634.6 C702.9,633.1 698.6,632.6 695.5,631.0 C692.4,629.4 688.9,627.5 688.0,625.0 C687.1,622.5 689.7,620.0 690.0,616.0 C690.3,612.0 691.0,606.5 690.0,601.0 C689.0,595.5 685.0,588.3 684.0,582.8 C683.0,577.3 684.4,572.3 684.0,568.0 C683.6,563.7 680.6,559.5 681.6,557.0 C682.6,554.5 686.8,554.6 690.0,553.0 C693.2,551.4 698.5,550.0 701.0,547.6 C703.5,545.2 702.5,540.8 704.7,538.4 C706.9,536.0 712.8,534.6 714.0,533.0 C715.2,531.4 714.2,530.9 712.0,529.0 C709.8,527.1 704.1,523.9 701.0,521.7 C697.9,519.5 695.4,518.1 693.6,516.0 C691.8,513.9 692.8,511.2 690.0,509.0 C687.2,506.8 682.2,504.9 677.0,503.0 C671.8,501.1 662.5,499.9 658.5,497.7 C654.5,495.5 653.8,492.0 653.0,490.0 C652.2,488.0 652.8,486.9 654.0,485.7 C655.2,484.5 658.0,485.3 660.0,483.0 C662.0,480.7 663.2,474.8 666.0,472.0 C668.8,469.2 673.3,467.3 677.0,466.0 C680.7,464.7 685.5,465.9 688.0,464.4 C690.5,462.9 689.8,459.1 692.0,457.0 C694.2,454.9 696.4,452.7 701.0,452.0 C705.6,451.3 715.2,453.4 719.5,453.0 C723.8,452.6 725.1,451.4 727.0,449.6 C728.9,447.8 728.8,444.2 730.6,442.0 C732.4,439.8 734.6,436.3 738.0,436.6Z" fill="#95aed8"/>
<g fill="none" stroke="#fff" stroke-width="3.2" stroke-linejoin="round" stroke-linecap="round">
<path d="M714.0,532.0 C715.5,532.1 719.5,531.4 723.2,532.8 C726.9,534.2 732.2,537.7 736.2,540.2 C740.2,542.7 744.2,546.4 747.3,547.6 C750.4,548.8 752.6,546.7 754.7,547.6 C756.9,548.5 759.0,550.4 760.2,553.2 C761.4,556.0 760.5,561.2 762.0,564.3 C763.5,567.4 766.7,570.2 769.5,571.7 C772.3,573.2 776.6,572.0 778.7,573.5 C780.9,575.0 780.9,578.8 782.4,581.0 C783.9,583.2 786.1,585.0 788.0,586.5 C789.9,588.0 792.4,588.4 793.5,590.2 C794.6,592.1 794.6,595.1 794.5,597.6 C794.4,600.1 792.5,602.5 792.6,605.0 C792.8,607.5 794.3,610.2 795.4,612.4 C796.5,614.6 797.8,616.8 799.0,618.0 C800.2,619.2 802.2,619.5 802.8,619.8"/>
<path d="M802.8,619.8 C801.6,620.4 797.2,622.0 795.4,623.5 C793.5,625.0 793.3,627.6 791.7,629.0 C790.1,630.4 788.5,631.8 786.0,631.8 C783.5,631.8 778.9,628.9 776.9,629.0 C774.9,629.1 774.1,630.5 774.1,632.7 C774.1,634.9 776.8,638.3 776.9,642.0 C777.0,645.7 776.2,652.2 775.0,655.0 C773.8,657.8 771.7,657.7 769.5,658.6 C767.3,659.5 764.5,660.2 762.0,660.5 C759.5,660.8 755.9,660.5 754.7,660.5"/>
<path d="M802.8,619.8 C804.0,619.2 808.1,616.5 810.2,616.0 C812.4,615.5 814.0,615.5 815.7,617.0 C817.4,618.5 818.5,622.1 820.4,625.3 C822.2,628.5 824.2,634.1 826.8,636.4 C829.4,638.7 833.2,638.9 836.0,639.2 C838.8,639.5 841.2,639.1 843.4,638.3 C845.6,637.5 847.1,634.3 849.0,634.6 C850.9,634.9 852.4,637.8 854.6,640.1 C856.8,642.4 859.2,647.6 862.0,648.5 C864.8,649.4 869.0,645.6 871.2,645.7 C873.4,645.9 874.1,647.9 875.0,649.4 C875.9,650.9 875.6,653.5 876.8,655.0 C878.0,656.5 881.4,658.0 882.3,658.6"/>
<path d="M762.0,660.5 C762.9,660.8 765.7,661.0 767.6,662.3 C769.5,663.5 772.0,665.2 773.2,668.0 C774.4,670.8 773.8,675.9 775.0,679.0 C776.2,682.1 779.3,683.4 780.6,686.5 C781.9,689.6 781.3,694.5 782.8,697.4 C784.2,700.3 787.8,702.5 789.3,704.0 C790.8,705.5 790.0,705.4 791.5,706.1 C793.0,706.8 796.2,707.2 798.0,708.3 C799.8,709.4 801.3,710.4 802.4,712.6 C803.5,714.8 803.2,719.1 804.6,721.3 C806.0,723.5 809.7,723.2 811.0,725.7 C812.3,728.2 812.0,734.8 812.2,736.6"/>
<path d="M812.2,736.6 C812.7,738.4 815.2,744.6 815.4,747.5 C815.6,750.4 815.1,752.5 813.3,754.0 C811.5,755.5 807.5,755.1 804.6,756.2 C801.7,757.3 798.1,758.7 795.9,760.5 C793.7,762.3 792.6,764.8 791.5,767.0 C790.4,769.2 790.8,772.1 789.3,773.6 C787.8,775.1 785.3,774.7 782.8,775.8 C780.3,776.9 777.0,779.4 774.1,780.1 C771.2,780.8 767.9,779.7 765.4,780.1 C762.9,780.5 761.1,781.0 758.9,782.3 C756.7,783.6 754.5,787.7 752.3,787.7 C750.1,787.7 748.0,784.6 745.8,782.3 C743.6,779.9 741.8,775.4 739.3,773.6 C736.8,771.8 733.5,771.8 730.6,771.4 C727.7,771.0 724.8,771.8 721.9,771.4 C719.0,771.0 716.5,769.9 713.2,769.2 C709.9,768.5 706.3,767.7 702.3,767.0 C698.3,766.3 691.4,765.2 689.2,764.9"/>
<path d="M812.2,730.0 C813.1,730.4 815.2,730.7 817.6,732.2 C820.0,733.7 824.1,735.9 826.3,738.8 C828.5,741.7 828.5,747.1 830.7,749.6 C832.9,752.1 837.2,753.1 839.4,754.0 C841.6,754.9 843.0,754.8 843.7,755.0"/>
<path d="M893.8,714.8 C892.0,715.5 886.3,719.6 883.0,719.2 C879.7,718.8 876.8,714.2 874.2,712.6 C871.7,711.0 870.2,709.0 867.7,709.4 C865.2,709.8 861.5,712.1 859.0,714.8 C856.5,717.5 853.9,722.1 852.4,725.7 C850.9,729.3 851.4,733.3 850.3,736.6 C849.2,739.9 847.0,742.2 845.9,745.3 C844.8,748.4 844.1,753.4 843.7,755.0"/>
<path d="M843.7,755.0 C845.5,755.5 853.9,756.6 854.6,758.3 C855.3,760.0 850.2,763.5 848.0,765.0 C845.8,766.5 841.6,765.2 841.6,767.0 C841.6,768.8 846.3,772.9 848.1,775.8 C849.9,778.7 850.6,781.6 852.4,784.5 C854.2,787.4 856.5,792.9 859.0,793.2 C861.5,793.6 864.4,787.7 867.7,786.6 C871.0,785.5 875.0,785.9 878.6,786.6 C882.2,787.3 886.9,789.5 889.4,791.0 C891.9,792.5 893.8,793.1 893.8,795.3 C893.8,797.5 889.4,801.1 889.4,804.0 C889.4,806.9 892.0,810.2 893.8,812.8 C895.6,815.3 898.5,816.8 900.3,819.3 C902.1,821.8 902.2,826.5 904.7,828.0 C907.2,829.5 912.0,827.6 915.6,828.0 C919.2,828.4 922.4,829.5 926.4,830.2 C930.4,830.9 935.9,832.7 939.5,832.3 C943.1,831.9 946.0,829.1 948.2,828.0 C950.4,826.9 951.9,826.2 952.6,825.8"/>
<path d="M843.7,755.0 C841.2,756.3 831.4,760.0 828.5,762.7 C825.6,765.4 827.8,767.8 826.3,771.4 C824.8,775.0 820.9,780.5 819.8,784.5 C818.7,788.5 819.8,790.9 819.8,795.3 C819.8,799.6 820.2,806.6 819.8,810.6 C819.4,814.6 818.0,815.7 817.6,819.3 C817.2,822.9 816.2,828.7 817.6,832.3 C819.0,835.9 823.4,839.5 826.3,841.0 C829.2,842.5 832.8,839.2 835.0,841.0 C837.2,842.8 838.7,848.7 839.4,852.0 C840.1,855.3 840.1,857.4 839.4,860.6 C838.7,863.9 836.5,869.0 835.0,871.5 C833.5,874.0 831.4,875.2 830.7,875.9"/>
<path d="M718.6,773.6 C718.0,775.4 716.2,780.5 715.3,784.5 C714.4,788.5 712.1,795.7 713.2,797.5 C714.3,799.3 719.4,796.0 721.9,795.3 C724.4,794.6 725.1,792.5 728.4,793.2 C731.7,793.9 737.1,797.2 741.5,799.7 C745.9,802.2 752.7,804.8 754.5,808.4 C756.3,812.0 752.1,817.5 752.3,821.5 C752.5,825.5 754.9,829.0 755.6,832.3 C756.3,835.5 754.7,838.8 756.7,841.0 C758.7,843.2 764.7,842.9 767.6,845.4 C770.5,847.9 773.0,853.0 774.1,856.3 C775.2,859.6 774.5,862.5 774.1,865.0 C773.8,867.5 771.3,869.7 772.0,871.5 C772.7,873.3 776.7,875.9 778.5,875.9 C780.3,875.9 781.3,874.8 782.8,871.5 C784.2,868.2 785.0,858.5 787.2,856.3 C789.4,854.1 793.4,857.6 795.9,858.5 C798.4,859.4 799.7,862.4 802.4,861.7 C805.1,861.0 810.0,853.6 812.2,854.1 C814.4,854.6 813.8,861.0 815.4,865.0 C817.0,869.0 819.5,876.2 822.0,878.0 C824.5,879.8 829.2,876.2 830.7,875.9"/>
<path d="M830.7,875.9 C831.6,879.0 834.6,891.1 836.2,894.8 C837.8,898.5 840.0,895.7 840.5,898.1 C841.0,900.5 840.1,905.5 839.4,909.0 C838.7,912.5 836.0,916.6 836.2,918.8 C836.4,921.0 838.7,922.0 840.5,922.0 C842.3,922.0 845.0,919.7 847.0,918.8 C849.0,917.9 849.8,917.0 852.5,916.6 C855.2,916.2 860.9,916.1 863.4,916.6 C865.9,917.1 865.9,919.1 867.7,919.8 C869.5,920.5 872.3,919.8 874.3,920.9 C876.3,922.0 877.0,925.3 879.7,926.4 C882.4,927.5 887.2,926.8 890.6,927.5 C894.0,928.2 898.0,928.9 900.4,930.7 C902.8,932.5 904.7,935.2 904.7,938.3 C904.7,941.4 901.1,945.9 900.4,949.2 C899.7,952.5 900.2,955.5 900.4,957.9 C900.6,960.3 901.7,962.1 901.5,963.4 C901.3,964.7 901.1,964.4 899.3,965.5 C897.5,966.6 893.0,968.4 890.6,969.9 C888.2,971.4 886.2,972.7 885.1,974.3 C884.0,975.9 885.3,978.2 884.0,979.7 C882.7,981.2 879.5,981.9 877.5,983.0 C875.5,984.1 873.4,984.9 872.1,986.2 C870.8,987.5 869.9,989.0 869.9,990.6 C869.9,992.2 872.1,994.0 872.1,996.0 C872.1,998.0 871.4,999.8 869.9,1002.5 C868.4,1005.2 865.0,1009.4 863.4,1012.3 C861.8,1015.2 860.5,1017.3 860.1,1020.0 C859.7,1022.7 859.8,1026.4 861.2,1028.7 C862.7,1031.0 866.3,1033.0 868.8,1034.1 C871.3,1035.2 874.4,1034.3 876.4,1035.2 C878.4,1036.1 879.2,1037.7 880.8,1039.5 C882.4,1041.3 884.6,1044.5 886.2,1046.1 C887.8,1047.7 888.8,1048.9 890.6,1049.3 C892.4,1049.7 895.8,1049.8 897.1,1048.2 C898.4,1046.6 898.2,1042.0 898.2,1039.5 C898.2,1037.0 898.0,1034.8 897.1,1033.0 C896.2,1031.2 894.1,1030.3 892.8,1028.7 C891.5,1027.1 890.4,1025.4 889.5,1023.2 C888.6,1021.0 888.6,1017.2 887.3,1015.6 C886.0,1014.0 882.8,1015.8 881.9,1013.4 C881.0,1011.0 882.1,1004.4 881.9,1001.5 C881.7,998.6 879.7,997.3 880.8,996.0 C881.9,994.7 886.2,994.7 888.4,993.8 C890.6,992.9 892.5,990.6 893.8,990.6 C895.1,990.6 895.3,992.2 896.0,993.8 C896.7,995.4 896.4,999.1 898.2,1000.4 C900.0,1001.7 903.6,1002.0 906.9,1001.5 C910.2,1001.0 914.7,997.3 917.8,997.1 C920.9,996.9 922.7,998.8 925.4,1000.4 C928.1,1002.0 931.9,1006.5 934.1,1006.9 C936.3,1007.2 937.0,1004.7 938.5,1002.5 C940.0,1000.3 941.0,996.0 942.8,993.8 C944.6,991.6 947.1,989.9 949.3,989.5 C951.5,989.1 954.1,991.0 955.9,991.7 C957.7,992.4 957.5,991.3 960.0,993.8 C962.5,996.3 967.2,1004.6 970.8,1006.6 C974.4,1008.6 980.2,1003.7 981.7,1005.5 C983.2,1007.3 977.7,1015.9 979.5,1017.5 C981.3,1019.1 989.7,1017.8 992.6,1015.3 C995.5,1012.8 995.7,1005.3 996.9,1002.3 C998.1,999.3 997.5,997.3 1000.0,997.5 C1002.5,997.7 1007.9,1001.4 1011.8,1003.4 C1015.7,1005.4 1020.6,1007.3 1023.5,1009.3 C1026.4,1011.2 1026.8,1013.5 1029.4,1015.1 C1032.0,1016.7 1036.3,1017.5 1039.2,1019.1 C1042.1,1020.7 1043.1,1023.9 1047.0,1024.9 C1050.9,1025.9 1059.8,1023.3 1062.7,1024.9 C1065.6,1026.5 1064.9,1031.1 1064.6,1034.7 C1064.3,1038.3 1061.0,1043.2 1060.7,1046.5 C1060.4,1049.8 1060.4,1052.0 1062.7,1054.3 C1065.0,1056.6 1071.1,1059.9 1074.4,1060.2 C1077.7,1060.5 1080.3,1057.9 1082.3,1056.3 C1084.3,1054.7 1085.5,1051.4 1086.2,1050.4"/>
<path d="M863.4,916.6 C862.9,918.0 861.5,923.5 860.1,925.3 C858.7,927.1 856.9,926.4 854.7,927.5 C852.5,928.6 849.0,930.5 847.0,931.8 C845.0,933.1 844.5,933.8 842.7,935.1 C840.9,936.4 838.4,938.0 836.2,939.4 C834.0,940.8 832.0,942.0 829.6,943.8 C827.2,945.6 824.2,948.5 822.0,950.3 C819.8,952.1 818.8,954.0 816.6,954.7 C814.4,955.4 811.2,954.4 809.0,954.7 C806.8,955.1 805.0,955.5 803.5,956.8 C802.0,958.1 801.8,960.8 800.3,962.3 C798.8,963.8 796.1,964.4 794.8,965.5 C793.5,966.6 792.6,967.2 792.6,968.8 C792.6,970.4 793.9,973.3 794.8,975.3 C795.7,977.3 797.7,979.0 798.1,980.8 C798.5,982.6 796.8,984.0 797.0,986.2 C797.2,988.4 797.8,992.0 799.2,993.8 C800.7,995.6 803.2,996.9 805.7,997.1 C808.2,997.3 811.7,995.8 814.4,994.9 C817.1,994.0 819.8,991.9 822.0,991.7 C824.2,991.5 825.9,994.2 827.5,993.8 C829.1,993.4 831.1,989.1 831.8,989.5 C832.5,989.9 832.2,994.2 831.8,996.0 C831.4,997.8 831.2,999.5 829.6,1000.4 C828.0,1001.3 823.6,1001.0 822.0,1001.5 C820.4,1002.0 822.0,1002.9 819.8,1003.6 C817.6,1004.3 811.9,1004.9 809.0,1005.8 C806.1,1006.7 803.7,1007.8 802.4,1009.1 C801.1,1010.4 800.6,1012.0 801.3,1013.4 C802.0,1014.8 805.3,1016.3 806.8,1017.8 C808.3,1019.2 808.6,1020.8 810.1,1022.1 C811.6,1023.4 815.0,1024.1 815.5,1025.4 C816.0,1026.7 815.1,1028.6 813.3,1029.7 C811.5,1030.8 807.0,1031.2 804.6,1031.9 C802.2,1032.6 799.8,1032.8 799.2,1034.1 C798.7,1035.4 800.4,1037.7 801.3,1039.5 C802.2,1041.3 803.5,1043.0 804.6,1045.0 C805.7,1047.0 807.5,1050.0 807.9,1051.5 C808.3,1053.0 807.5,1053.9 806.8,1053.7 C806.1,1053.5 805.0,1051.5 803.5,1050.4 C802.0,1049.3 799.7,1048.1 798.1,1047.2 C796.5,1046.3 795.5,1045.4 793.7,1045.0 C791.9,1044.6 789.2,1045.5 787.2,1045.0 C785.2,1044.5 783.4,1042.8 781.8,1041.7 C780.2,1040.6 778.5,1038.3 777.4,1038.5 C776.3,1038.7 775.8,1041.2 775.2,1042.8 C774.7,1044.4 775.6,1046.8 774.1,1048.2 C772.6,1049.7 768.3,1050.4 766.5,1051.5 C764.7,1052.6 764.1,1053.2 763.3,1054.8 C762.5,1056.4 763.9,1060.0 761.9,1061.0 C759.9,1062.0 753.9,1060.6 751.0,1061.0 C748.1,1061.4 746.0,1063.9 744.5,1063.2 C743.0,1062.5 741.2,1058.5 742.3,1056.7 C743.4,1054.9 748.8,1053.8 751.0,1052.3 C753.2,1050.8 754.9,1049.5 755.3,1048.0 C755.7,1046.5 752.5,1044.7 753.2,1043.6 C753.9,1042.5 758.2,1043.0 759.7,1041.5 C761.2,1040.0 762.3,1037.1 761.9,1034.9 C761.5,1032.7 757.9,1030.9 757.5,1028.4 C757.1,1025.9 760.8,1021.5 759.7,1019.7 C758.6,1017.9 753.2,1017.1 751.0,1017.5 C748.8,1017.9 748.1,1021.9 746.6,1021.9 C745.1,1021.9 743.4,1020.0 742.3,1017.5 C741.2,1015.0 741.2,1008.4 740.1,1006.6 C739.0,1004.8 737.6,1006.6 735.8,1006.6 C734.0,1006.6 731.8,1006.8 729.2,1006.6 C726.7,1006.4 721.6,1004.8 720.5,1005.5 C719.4,1006.2 721.6,1009.4 722.7,1011.0 C723.8,1012.6 727.4,1013.8 727.0,1015.3 C726.6,1016.8 722.3,1017.9 720.5,1019.7 C718.7,1021.5 716.9,1023.7 716.2,1026.2 C715.5,1028.7 715.5,1032.4 716.2,1034.9 C716.9,1037.5 719.4,1038.6 720.5,1041.5 C721.6,1044.4 722.5,1048.3 722.7,1052.3 C722.9,1056.3 722.3,1062.1 721.6,1065.4 C720.9,1068.7 720.3,1070.5 718.3,1071.9 C716.3,1073.4 712.5,1073.4 709.6,1074.1 C706.7,1074.8 702.9,1075.2 700.9,1076.3 C698.9,1077.4 697.7,1078.8 697.7,1080.6 C697.7,1082.4 699.6,1084.7 700.9,1087.2 C702.2,1089.8 705.6,1094.1 705.3,1095.9 C704.9,1097.7 700.4,1096.9 698.8,1098.0 C697.2,1099.1 695.5,1100.2 695.5,1102.4 C695.5,1104.6 699.3,1108.2 698.8,1111.1 C698.2,1114.0 694.8,1117.6 692.2,1119.8 C689.7,1122.0 685.1,1122.8 683.5,1124.2 C681.9,1125.7 681.7,1127.0 682.4,1128.5 C683.1,1130.0 687.9,1131.8 687.9,1132.9 C687.9,1134.0 683.1,1133.2 682.4,1135.0 C681.7,1136.8 683.0,1140.8 683.5,1143.7 C684.0,1146.6 685.3,1151.0 685.7,1152.4"/>
<path d="M555.5,1016.3 C556.6,1016.2 559.5,1016.0 562.0,1015.5 C564.5,1015.0 566.7,1013.0 570.2,1013.0 C573.7,1013.0 578.9,1015.2 583.2,1015.5 C587.6,1015.8 593.0,1014.2 596.3,1014.6 C599.6,1015.0 600.6,1016.8 602.8,1017.9 C605.0,1019.0 607.1,1020.1 609.3,1021.2 C611.5,1022.3 613.7,1023.1 615.9,1024.4 C618.1,1025.8 620.2,1027.7 622.4,1029.3 C624.6,1030.9 627.0,1033.7 628.9,1034.2 C630.8,1034.8 632.2,1033.7 633.8,1032.6 C635.4,1031.5 637.1,1028.8 638.7,1027.7 C640.3,1026.6 642.0,1025.2 643.6,1026.0 C645.2,1026.8 647.1,1030.1 648.5,1032.6 C649.9,1035.0 651.0,1037.7 651.8,1040.7 C652.6,1043.7 652.9,1047.2 653.4,1050.5 C653.9,1053.8 654.2,1057.3 655.0,1060.3 C655.8,1063.3 656.9,1066.3 658.3,1068.5 C659.7,1070.7 661.3,1072.0 663.2,1073.4 C665.1,1074.8 667.2,1075.3 669.7,1076.7 C672.2,1078.1 675.5,1080.0 677.9,1081.6 C680.3,1083.2 682.2,1085.3 684.4,1086.4 C686.6,1087.5 688.7,1086.7 690.9,1088.1 C693.1,1089.5 696.4,1093.5 697.5,1094.6"/>
<path d="M685.7,1152.4 C687.8,1152.4 695.8,1150.1 698.3,1152.2 C700.8,1154.3 698.3,1162.5 700.5,1165.2 C702.7,1167.9 707.0,1167.8 711.4,1168.5 C715.8,1169.2 723.3,1167.2 726.6,1169.6 C729.9,1171.9 728.1,1181.1 731.0,1182.6 C733.9,1184.0 738.6,1178.6 744.0,1178.3 C749.4,1178.0 759.2,1177.6 763.6,1180.5 C768.0,1183.4 765.9,1193.9 770.2,1195.7 C774.6,1197.5 785.7,1193.8 789.7,1191.3 C793.7,1188.8 791.6,1183.0 794.1,1180.5 C796.6,1178.0 802.5,1178.6 805.0,1176.1 C807.5,1173.5 806.4,1166.7 809.3,1165.2 C812.2,1163.8 818.8,1166.3 822.4,1167.4 C826.0,1168.5 830.4,1169.6 831.1,1171.8 C831.8,1174.0 825.6,1178.7 826.7,1180.5 C827.8,1182.3 832.9,1182.6 837.6,1182.6 C842.3,1182.6 851.7,1182.3 855.0,1180.5 C858.3,1178.7 855.0,1173.6 857.2,1171.8 C859.4,1170.0 864.5,1168.5 868.1,1169.6 C871.7,1170.7 875.0,1177.6 879.0,1178.3 C883.0,1179.0 888.0,1175.7 892.0,1173.9 C896.0,1172.1 898.9,1167.8 902.9,1167.4 C906.9,1167.1 912.7,1169.3 916.0,1171.8 C919.3,1174.3 919.6,1182.2 922.5,1182.6 C925.4,1182.9 929.0,1176.4 933.4,1173.9 C937.8,1171.4 944.2,1166.7 948.6,1167.4 C953.0,1168.1 955.9,1175.4 959.5,1178.3 C963.1,1181.2 968.6,1183.7 970.4,1184.8"/>
<path d="M685.7,1152.4 C683.5,1152.4 674.8,1150.1 672.2,1152.2 C669.6,1154.3 667.6,1161.9 670.1,1165.2 C672.6,1168.5 686.4,1170.0 687.5,1171.8 C688.6,1173.6 681.0,1173.6 676.6,1176.1 C672.2,1178.6 662.4,1183.7 661.3,1187.0 C660.2,1190.3 668.3,1192.4 670.1,1195.7 C671.9,1199.0 673.3,1203.3 672.2,1206.6 C671.1,1209.9 666.4,1215.3 663.5,1215.3 C660.6,1215.3 657.0,1206.6 654.8,1206.6 C652.6,1206.6 652.3,1212.8 650.5,1215.3 C648.7,1217.8 645.4,1218.9 643.9,1221.8 C642.4,1224.7 643.2,1229.4 641.8,1232.7 C640.3,1236.0 637.0,1241.0 635.2,1241.4 C633.4,1241.8 633.4,1236.4 630.9,1234.9 C628.4,1233.5 621.8,1233.1 620.0,1232.7"/>
<path d="M970.4,1184.8 C970.8,1183.0 971.5,1178.2 973.0,1174.2 C974.5,1170.2 977.0,1166.2 979.5,1161.1 C982.0,1156.0 986.0,1148.8 988.2,1143.7 C990.4,1138.6 990.1,1133.2 992.6,1130.7 C995.1,1128.2 1000.2,1128.8 1003.4,1128.5 C1006.6,1128.2 1008.8,1129.3 1011.8,1128.7 C1014.8,1128.1 1019.5,1127.1 1021.5,1124.8 C1023.5,1122.5 1022.8,1117.9 1023.5,1115.0 C1024.2,1112.1 1023.2,1109.8 1025.5,1107.2 C1027.8,1104.6 1035.6,1102.7 1037.2,1099.4 C1038.8,1096.1 1037.6,1090.5 1035.3,1087.6 C1033.0,1084.6 1027.4,1082.7 1023.5,1081.7 C1019.6,1080.7 1013.4,1082.7 1011.8,1081.7 C1010.2,1080.7 1013.1,1079.5 1013.7,1075.9 C1014.4,1072.3 1012.8,1062.2 1015.7,1060.2 C1018.6,1058.2 1025.8,1063.1 1031.3,1064.1 C1036.8,1065.1 1044.1,1066.1 1049.0,1066.1 C1053.9,1066.1 1058.4,1065.7 1060.7,1064.1 C1063.0,1062.5 1062.4,1057.6 1062.7,1056.3"/>
<path d="M970.4,1184.8 C969.0,1186.6 962.8,1192.1 961.7,1195.7 C960.6,1199.3 962.3,1203.0 963.8,1206.6 C965.2,1210.2 969.7,1213.5 970.4,1217.5 C971.1,1221.5 969.3,1227.6 968.2,1230.5 C967.1,1233.4 964.9,1232.7 963.8,1234.9 C962.7,1237.1 961.7,1240.0 961.7,1243.6 C961.7,1247.2 962.0,1253.3 963.8,1256.6 C965.6,1259.9 970.4,1260.7 972.6,1263.2 C974.8,1265.8 975.1,1269.7 976.9,1271.9 C978.7,1274.1 983.4,1275.1 983.4,1276.2 C983.4,1277.3 980.2,1277.7 976.9,1278.4 C973.6,1279.1 967.1,1278.4 963.8,1280.6 C960.5,1282.8 958.4,1288.2 957.3,1291.5 C956.1,1294.8 957.0,1297.2 956.9,1300.1 C956.8,1302.9 956.2,1306.5 956.9,1308.6 C957.6,1310.7 959.0,1311.7 961.1,1312.9 C963.2,1314.1 967.5,1314.3 969.6,1315.7 C971.7,1317.1 972.5,1318.8 973.9,1321.4 C975.3,1324.0 976.5,1329.0 978.1,1331.3 C979.8,1333.6 982.4,1334.1 983.8,1335.5 C985.2,1336.9 985.7,1337.2 986.6,1339.8 C987.5,1342.4 988.2,1348.5 989.4,1351.1 C990.6,1353.7 992.1,1354.8 993.7,1355.3 C995.4,1355.8 997.2,1354.4 999.3,1353.9 C1001.4,1353.4 1004.0,1353.0 1006.4,1352.5 C1008.8,1352.0 1012.3,1351.3 1013.5,1351.1"/>
<path d="M956.9,1310.0 C956.2,1309.8 953.8,1308.3 952.6,1308.6 C951.4,1308.8 951.2,1311.3 949.8,1311.5 C948.4,1311.7 946.0,1311.0 944.1,1310.0 C942.2,1309.0 939.4,1307.5 938.5,1305.8 C937.6,1304.1 939.2,1302.0 938.5,1300.1 C937.8,1298.2 934.4,1296.2 934.2,1294.5 C934.0,1292.8 936.2,1292.8 937.1,1290.2 C938.0,1287.6 940.9,1282.5 939.9,1278.9 C938.9,1275.3 934.5,1269.8 931.2,1268.6 C927.9,1267.4 923.6,1271.9 920.3,1271.9 C917.0,1271.9 913.8,1268.6 911.6,1268.6 C909.4,1268.6 908.8,1270.3 907.3,1271.9 C905.8,1273.5 904.7,1278.4 902.9,1278.4 C901.1,1278.4 898.6,1274.8 896.4,1271.9 C894.2,1269.0 892.4,1263.9 889.9,1261.0 C887.4,1258.1 884.1,1256.0 881.2,1254.5 C878.3,1253.0 874.6,1253.0 872.4,1252.3 C870.2,1251.6 869.2,1249.0 868.1,1250.1 C867.0,1251.2 866.3,1255.9 865.9,1258.8 C865.5,1261.7 866.6,1264.6 865.9,1267.5 C865.2,1270.4 863.4,1274.0 861.6,1276.2 C859.8,1278.4 857.2,1280.2 855.0,1280.6 C852.8,1281.0 850.7,1277.3 848.5,1278.4 C846.3,1279.5 842.7,1283.8 842.0,1287.1 C841.3,1290.4 843.5,1294.7 844.2,1298.0 C844.9,1301.3 847.4,1303.8 846.3,1306.7 C845.2,1309.6 840.1,1313.2 837.6,1315.4 C835.1,1317.6 832.2,1319.0 831.1,1319.7"/>
<path d="M831.1,1319.7 C829.4,1320.8 823.9,1324.8 820.9,1326.1 C817.9,1327.4 815.6,1326.6 813.3,1327.6 C811.0,1328.6 808.7,1330.4 807.2,1332.2 C805.7,1334.0 804.9,1335.8 804.1,1338.3 C803.3,1340.8 803.6,1345.4 802.6,1347.4 C801.6,1349.4 800.3,1349.7 798.0,1350.5 C795.7,1351.3 790.9,1350.7 788.9,1352.0 C786.9,1353.3 787.4,1356.1 785.9,1358.1 C784.4,1360.1 781.6,1363.7 779.8,1364.2 C778.0,1364.7 777.2,1360.8 775.2,1361.1 C773.2,1361.3 770.1,1364.4 767.6,1365.7 C765.1,1367.0 762.8,1369.0 760.0,1368.8 C757.2,1368.5 753.6,1365.0 750.8,1364.2 C748.0,1363.4 744.2,1363.2 743.2,1364.2 C742.2,1365.2 743.9,1368.0 744.7,1370.3 C745.5,1372.6 747.8,1375.9 747.8,1377.9 C747.8,1379.9 746.0,1380.7 744.7,1382.5 C743.4,1384.3 741.7,1386.8 740.2,1388.6 C738.7,1390.4 737.6,1392.6 735.6,1393.1 C733.6,1393.6 730.8,1392.1 728.0,1391.6 C725.2,1391.1 720.8,1389.3 718.8,1390.1 C716.8,1390.9 717.8,1394.9 715.8,1396.2 C713.8,1397.5 709.1,1396.7 706.6,1397.7 C704.1,1398.7 702.3,1400.7 700.5,1402.3 C698.7,1403.9 698.3,1406.8 696.0,1407.6 C693.7,1408.3 688.8,1406.4 686.8,1406.8 C684.8,1407.2 684.5,1408.1 683.8,1409.9 C683.0,1411.7 681.8,1415.2 682.3,1417.5 C682.8,1419.8 685.5,1421.6 686.8,1423.6 C688.1,1425.6 689.6,1427.7 689.9,1429.7 C690.2,1431.7 689.4,1433.8 688.4,1435.8 C687.4,1437.8 685.8,1440.1 683.8,1441.9 C681.8,1443.7 678.0,1444.9 676.2,1446.4 C674.4,1447.9 672.9,1449.5 673.1,1451.0 C673.4,1452.5 676.4,1453.8 677.7,1455.6 C679.0,1457.4 680.2,1459.4 680.7,1461.7 C681.2,1464.0 680.4,1466.5 680.7,1469.3 C681.0,1472.1 682.5,1475.9 682.3,1478.4 C682.0,1480.9 681.8,1483.2 679.2,1484.5 C676.7,1485.8 669.0,1485.8 667.0,1486.0"/>
<path d="M831.1,1319.7 C831.7,1321.3 834.3,1325.2 834.6,1329.1 C834.9,1333.0 833.9,1338.1 833.1,1342.9 C832.3,1347.7 830.2,1354.8 830.0,1358.1 C829.8,1361.4 831.9,1361.2 831.6,1362.7 C831.4,1364.2 829.5,1364.7 828.5,1367.2 C827.5,1369.7 826.5,1374.3 825.5,1377.9 C824.5,1381.5 822.6,1385.5 822.4,1388.6 C822.1,1391.6 823.2,1393.7 824.0,1396.2 C824.8,1398.7 826.8,1401.8 827.0,1403.8 C827.2,1405.8 827.3,1407.1 825.5,1408.4 C823.7,1409.7 816.5,1409.9 816.3,1411.4 C816.0,1412.9 822.0,1415.5 824.0,1417.5 C826.0,1419.5 828.0,1421.6 828.5,1423.6 C829.0,1425.6 827.0,1427.4 827.0,1429.7 C827.0,1432.0 829.8,1435.8 828.5,1437.3 C827.2,1438.8 822.4,1438.3 819.4,1438.8 C816.4,1439.3 812.5,1439.4 810.2,1440.4 C807.9,1441.4 806.2,1442.9 805.7,1444.9 C805.2,1446.9 806.7,1450.5 807.2,1452.5 C807.7,1454.5 809.0,1455.1 808.7,1457.1 C808.5,1459.1 805.7,1462.2 805.7,1464.7 C805.7,1467.2 808.0,1469.8 808.7,1472.3 C809.5,1474.8 810.2,1478.2 810.2,1480.0 C810.2,1481.8 810.7,1483.0 808.7,1483.0 C806.7,1483.0 801.0,1480.2 798.0,1480.0 C795.0,1479.8 791.4,1479.7 790.4,1481.5 C789.4,1483.3 791.5,1487.0 792.0,1490.6 C792.5,1494.1 793.5,1500.0 793.5,1502.8 C793.5,1505.6 791.5,1505.9 792.0,1507.4 C792.5,1508.9 795.0,1510.2 796.5,1512.0 C798.0,1513.8 799.8,1515.7 801.1,1518.0 C802.4,1520.3 803.8,1523.5 804.1,1525.7 C804.4,1527.9 803.8,1529.2 803.0,1531.0 C802.2,1532.8 799.7,1534.4 799.6,1536.3 C799.5,1538.2 801.6,1540.4 802.6,1542.4 C803.6,1544.4 804.7,1546.7 805.7,1548.5 C806.7,1550.3 808.0,1553.6 808.7,1553.1 C809.5,1552.6 809.4,1547.5 810.2,1545.5 C811.0,1543.5 811.5,1541.4 813.3,1540.9 C815.1,1540.4 818.4,1542.7 820.9,1542.4 C823.4,1542.2 826.0,1540.2 828.5,1539.4 C831.0,1538.6 833.6,1538.8 836.1,1537.8 C838.6,1536.8 841.2,1534.0 843.8,1533.3 C846.3,1532.5 849.4,1532.3 851.4,1533.3 C853.4,1534.3 854.9,1536.9 855.9,1539.4 C856.9,1541.9 856.5,1546.5 857.5,1548.5 C858.5,1550.5 859.7,1550.8 862.0,1551.6 C864.3,1552.4 868.9,1552.3 871.2,1553.1 C873.5,1553.8 875.5,1554.6 875.7,1556.1 C876.0,1557.6 873.7,1560.4 872.7,1562.2 C871.7,1564.0 869.6,1565.0 869.6,1566.8 C869.6,1568.6 871.9,1571.3 872.7,1572.9 C873.5,1574.5 874.4,1575.1 874.4,1576.3 C874.4,1577.5 873.6,1578.6 872.8,1580.0 C872.0,1581.4 870.0,1583.8 869.5,1584.5"/>
<path d="M808.7,1522.6 C809.2,1521.3 810.5,1516.6 812.0,1515.0 C813.5,1513.4 816.7,1512.7 818.0,1513.0 C819.3,1513.3 818.7,1516.0 820.0,1517.0 C821.3,1518.0 825.3,1517.5 826.0,1519.0 C826.7,1520.5 825.3,1524.3 824.0,1526.0 C822.7,1527.7 819.5,1527.7 818.0,1529.0 C816.5,1530.3 816.3,1533.2 815.0,1534.0 C813.7,1534.8 811.5,1534.7 810.0,1534.0 C808.5,1533.3 806.2,1531.9 806.0,1530.0 C805.8,1528.1 808.2,1523.8 808.7,1522.6"/>
<path d="M831.1,1439.5 C832.9,1439.8 839.1,1440.7 842.0,1441.6 C844.9,1442.5 846.3,1444.2 848.5,1444.9 C850.7,1445.6 853.2,1446.5 855.0,1446.0 C856.8,1445.5 857.6,1443.4 859.4,1441.6 C861.2,1439.8 863.4,1436.5 865.9,1435.1 C868.4,1433.6 871.7,1432.9 874.6,1432.9 C877.5,1432.9 881.1,1434.4 883.3,1435.1 C885.5,1435.8 886.2,1437.7 887.7,1437.3 C889.2,1436.9 890.2,1434.0 892.0,1432.9 C893.8,1431.8 896.8,1430.7 898.6,1430.7 C900.4,1430.7 901.8,1433.6 902.9,1432.9 C904.0,1432.2 905.1,1428.6 905.1,1426.4 C905.1,1424.2 901.8,1422.1 902.9,1419.9 C904.0,1417.7 908.7,1414.8 911.6,1413.3 C914.5,1411.8 917.4,1412.3 920.3,1411.2 C923.2,1410.1 926.1,1407.5 929.0,1406.8 C931.9,1406.1 935.5,1407.9 937.7,1406.8 C939.9,1405.7 941.4,1402.1 942.1,1400.3 C942.8,1398.5 941.4,1397.0 942.1,1395.9 C942.8,1394.8 944.6,1394.3 946.4,1393.7 C948.1,1393.1 950.6,1391.7 952.6,1392.1 C954.6,1392.5 957.1,1396.5 958.3,1396.3 C959.5,1396.1 958.5,1392.6 959.7,1390.7 C960.9,1388.8 963.3,1386.7 965.4,1385.0 C967.5,1383.3 970.3,1381.7 972.4,1380.8 C974.5,1379.9 976.2,1379.4 978.1,1379.4 C980.0,1379.4 981.4,1380.8 983.8,1380.8 C986.1,1380.8 989.9,1380.1 992.2,1379.4 C994.6,1378.7 996.0,1377.7 997.9,1376.5 C999.8,1375.3 1002.2,1373.7 1003.6,1372.3 C1005.0,1370.9 1005.0,1369.4 1006.4,1368.0 C1007.8,1366.6 1010.6,1365.5 1012.0,1363.8 C1013.4,1362.1 1014.6,1360.2 1014.9,1358.1 C1015.1,1356.0 1013.7,1352.3 1013.5,1351.1"/>
<path d="M1013.5,1351.1 C1014.7,1350.4 1017.9,1348.0 1020.5,1346.8 C1023.1,1345.6 1026.2,1344.7 1029.0,1344.0 C1031.8,1343.3 1034.9,1343.3 1037.5,1342.6 C1040.1,1341.9 1042.9,1341.4 1044.6,1339.8 C1046.2,1338.2 1046.7,1335.8 1047.4,1332.7 C1048.1,1329.6 1047.8,1324.0 1048.8,1321.4 C1049.8,1318.8 1051.7,1317.3 1053.1,1317.1 C1054.5,1316.9 1055.6,1317.9 1057.3,1320.0 C1059.0,1322.1 1061.3,1329.0 1063.0,1329.9 C1064.7,1330.8 1065.3,1325.6 1067.2,1325.6 C1069.1,1325.6 1072.4,1330.1 1074.3,1329.9 C1076.2,1329.7 1077.5,1327.0 1078.5,1324.2 C1079.5,1321.4 1079.0,1316.0 1080.0,1312.9 C1081.0,1309.8 1082.1,1307.7 1084.2,1305.8 C1086.3,1303.9 1090.1,1303.0 1092.7,1301.6 C1095.3,1300.2 1097.9,1299.2 1099.8,1297.3 C1101.7,1295.4 1102.3,1291.4 1104.0,1290.2 C1105.7,1289.0 1107.6,1289.2 1109.7,1290.2 C1111.8,1291.2 1114.1,1293.8 1116.7,1295.9 C1119.3,1298.0 1122.8,1301.3 1125.2,1303.0 C1127.6,1304.7 1129.0,1305.6 1130.9,1305.8 C1132.8,1306.0 1134.6,1305.8 1136.5,1304.4 C1138.4,1303.0 1139.8,1299.2 1142.2,1297.3 C1144.6,1295.4 1148.1,1294.5 1150.7,1293.1 C1153.3,1291.7 1155.9,1289.8 1157.8,1288.8 C1159.7,1287.8 1161.3,1287.6 1162.0,1287.4"/>
<path d="M1006.4,1352.5 C1006.4,1350.8 1005.7,1345.4 1006.4,1342.6 C1007.1,1339.8 1009.4,1338.1 1010.6,1335.5 C1011.8,1332.9 1011.9,1328.9 1013.5,1327.0 C1015.1,1325.1 1018.1,1325.6 1020.5,1324.2 C1022.9,1322.8 1026.2,1320.6 1027.6,1318.5 C1029.0,1316.4 1027.6,1312.9 1029.0,1311.5 C1030.4,1310.1 1034.2,1311.2 1036.1,1310.0 C1038.0,1308.8 1038.9,1306.3 1040.3,1304.4 C1041.7,1302.5 1043.9,1300.6 1044.6,1298.7 C1045.3,1296.8 1045.3,1295.7 1044.6,1293.1 C1043.9,1290.5 1040.8,1286.0 1040.3,1283.2 C1039.8,1280.4 1042.7,1277.8 1041.8,1276.1 C1040.9,1274.4 1036.1,1274.9 1034.7,1273.3 C1033.3,1271.7 1033.8,1269.3 1033.3,1266.2 C1032.8,1263.1 1033.1,1257.7 1031.9,1254.9 C1030.7,1252.1 1026.7,1250.6 1026.2,1249.2 C1025.7,1247.8 1027.1,1247.3 1029.0,1246.4 C1030.9,1245.5 1035.1,1243.1 1037.5,1243.6 C1039.9,1244.1 1041.1,1247.8 1043.2,1249.2 C1045.3,1250.6 1048.1,1251.0 1050.2,1252.0 C1052.3,1253.0 1054.2,1253.7 1055.9,1254.9 C1057.6,1256.1 1058.7,1259.1 1060.1,1259.1 C1061.5,1259.1 1064.2,1256.6 1064.4,1254.9 C1064.7,1253.2 1063.5,1251.1 1061.6,1249.2 C1059.7,1247.3 1054.3,1245.9 1053.1,1243.6 C1051.9,1241.2 1054.7,1237.5 1054.5,1235.1 C1054.3,1232.7 1053.4,1231.8 1051.7,1229.4 C1050.0,1227.0 1045.5,1223.2 1044.6,1220.9 C1043.6,1218.6 1045.3,1217.7 1046.0,1215.3 C1046.7,1212.9 1046.9,1209.2 1048.8,1206.8 C1050.7,1204.4 1055.4,1203.2 1057.3,1201.1 C1059.2,1199.0 1058.2,1195.7 1060.1,1194.0 C1062.0,1192.3 1065.3,1191.4 1068.6,1191.2 C1071.9,1191.0 1077.2,1193.5 1080.0,1192.6 C1082.8,1191.7 1083.5,1187.7 1085.6,1185.6 C1087.7,1183.5 1091.3,1182.5 1092.7,1179.9 C1094.1,1177.3 1093.5,1172.0 1094.1,1170.0 C1094.6,1168.0 1095.4,1169.9 1096.0,1167.9 C1096.6,1165.9 1097.9,1161.4 1097.9,1158.1 C1097.9,1154.8 1094.7,1151.2 1096.0,1148.3 C1097.3,1145.4 1102.2,1143.1 1105.8,1140.5 C1109.4,1137.9 1115.2,1135.0 1117.5,1132.7 C1119.8,1130.4 1119.2,1127.8 1119.5,1126.8"/>
<path d="M1086.2,1050.4 C1086.5,1050.4 1086.1,1049.4 1088.1,1050.4 C1090.0,1051.4 1095.0,1053.4 1097.9,1056.3 C1100.9,1059.2 1102.8,1065.1 1105.8,1068.0 C1108.8,1070.9 1113.6,1071.0 1115.6,1073.9 C1117.5,1076.9 1116.8,1082.1 1117.5,1085.7 C1118.2,1089.3 1118.8,1092.2 1119.5,1095.4 C1120.2,1098.7 1119.1,1102.9 1121.4,1105.2 C1123.7,1107.5 1130.9,1107.9 1133.2,1109.2 C1135.5,1110.5 1136.4,1111.1 1135.1,1113.1 C1133.8,1115.0 1128.0,1118.6 1125.4,1120.9 C1122.8,1123.2 1120.5,1125.8 1119.5,1126.8"/>
<path d="M1086.2,1050.4 C1086.2,1049.1 1085.6,1045.2 1086.2,1042.6 C1086.8,1040.0 1088.1,1037.3 1090.1,1034.7 C1092.0,1032.1 1096.6,1028.2 1097.9,1026.9"/>
<path d="M1113.6,890.8 C1114.2,891.6 1117.8,894.2 1117.5,895.7 C1117.2,897.2 1112.9,898.0 1111.6,899.6 C1110.3,901.2 1109.0,903.2 1109.7,905.5 C1110.4,907.8 1113.0,911.0 1115.6,913.3 C1118.2,915.6 1123.1,916.9 1125.4,919.2 C1127.7,921.5 1130.0,925.4 1129.3,927.0 C1128.6,928.6 1124.4,928.0 1121.4,929.0 C1118.5,930.0 1113.5,931.3 1111.6,932.9 C1109.6,934.5 1108.7,937.2 1109.7,938.8 C1110.7,940.4 1116.2,940.1 1117.5,942.7 C1118.8,945.3 1117.5,951.8 1117.5,954.4 C1117.5,957.0 1116.2,957.0 1117.5,958.3 C1118.8,959.6 1122.1,961.0 1125.4,962.3 C1128.7,963.6 1134.0,964.9 1137.1,966.2 C1140.2,967.5 1143.3,968.8 1144.0,970.1 C1144.7,971.4 1143.5,973.4 1141.0,974.0 C1138.5,974.6 1133.2,974.0 1129.3,974.0 C1125.4,974.0 1120.8,973.0 1117.5,974.0 C1114.2,975.0 1112.0,977.6 1109.7,979.9 C1107.4,982.2 1106.7,985.4 1103.8,987.7 C1100.9,990.0 1094.9,991.6 1092.1,993.6 C1089.3,995.6 1087.9,996.6 1087.2,999.5 C1086.5,1002.4 1087.3,1007.6 1088.1,1011.2 C1088.9,1014.8 1090.5,1018.4 1092.1,1021.0 C1093.7,1023.6 1096.9,1025.9 1097.9,1026.9"/>
<path d="M1097.9,1026.9 C1099.9,1027.6 1106.4,1031.1 1109.7,1030.8 C1113.0,1030.5 1114.9,1025.2 1117.5,1024.9 C1120.1,1024.6 1122.1,1026.9 1125.4,1028.9 C1128.7,1030.9 1134.5,1035.7 1137.1,1036.7 C1139.7,1037.7 1137.7,1035.7 1141.0,1034.7 C1144.3,1033.7 1152.1,1031.1 1156.7,1030.8 C1161.3,1030.5 1164.5,1033.1 1168.4,1032.8 C1172.3,1032.5 1176.9,1031.5 1180.2,1028.9 C1183.5,1026.3 1184.4,1019.4 1188.0,1017.1 C1191.6,1014.8 1198.1,1014.1 1201.7,1015.1 C1205.3,1016.1 1206.6,1020.0 1209.6,1023.0 C1212.5,1026.0 1216.8,1031.8 1219.4,1032.8 C1222.0,1033.8 1222.3,1030.2 1225.2,1028.9 C1228.1,1027.6 1233.1,1026.2 1237.0,1024.9 C1240.9,1023.6 1246.4,1023.6 1248.7,1021.0 C1251.0,1018.4 1250.0,1013.5 1250.7,1009.3 C1251.4,1005.1 1251.1,999.2 1252.7,995.6 C1254.3,992.0 1257.6,989.3 1260.5,987.7 C1263.4,986.1 1268.7,986.1 1270.3,985.8"/>
<path d="M1270.3,985.8 C1271.0,984.8 1271.9,981.9 1274.2,979.9 C1276.5,977.9 1282.4,976.9 1284.0,974.0 C1285.6,971.1 1285.0,965.2 1284.0,962.3 C1283.0,959.4 1278.1,959.3 1278.1,956.4 C1278.1,953.5 1281.7,948.5 1284.0,944.6 C1286.3,940.7 1290.5,935.8 1291.8,932.9 C1293.1,930.0 1291.8,928.0 1291.8,927.0"/>
<path d="M1270.3,985.8 C1271.9,986.4 1278.0,986.4 1280.0,989.7 C1282.0,993.0 1282.3,1000.2 1282.0,1005.4 C1281.7,1010.6 1279.1,1016.1 1278.1,1021.0 C1277.1,1025.9 1277.8,1031.1 1276.2,1034.7 C1274.6,1038.3 1271.9,1040.0 1268.3,1042.6 C1264.7,1045.2 1258.8,1047.8 1254.6,1050.4 C1250.4,1053.0 1246.5,1055.6 1242.9,1058.2 C1239.3,1060.8 1235.7,1063.1 1233.1,1066.1 C1230.5,1069.0 1229.2,1073.3 1227.2,1075.9 C1225.2,1078.5 1223.9,1081.1 1221.3,1081.7 C1218.7,1082.3 1214.8,1080.8 1211.5,1079.8 C1208.2,1078.8 1204.6,1075.9 1201.7,1075.9 C1198.8,1075.9 1194.9,1077.8 1193.9,1079.8 C1192.9,1081.8 1194.6,1085.0 1195.9,1087.6 C1197.2,1090.2 1199.8,1093.1 1201.7,1095.4 C1203.7,1097.7 1204.6,1100.0 1207.6,1101.3 C1210.5,1102.6 1216.1,1101.7 1219.4,1103.3 C1222.7,1104.9 1224.6,1108.8 1227.2,1111.1 C1229.8,1113.4 1233.0,1114.7 1235.0,1117.0 C1237.0,1119.3 1237.3,1121.9 1238.9,1124.8 C1240.5,1127.7 1243.2,1131.4 1244.8,1134.6 C1246.4,1137.8 1246.7,1141.5 1248.7,1144.0 C1250.7,1146.5 1253.5,1148.4 1256.7,1149.6 C1259.9,1150.8 1265.4,1150.1 1268.1,1151.2 C1270.8,1152.3 1271.9,1154.2 1273.0,1156.1 C1274.1,1158.0 1274.3,1161.5 1274.6,1162.6"/>
<path d="M1119.5,1126.8 C1120.9,1127.3 1124.2,1129.5 1127.7,1130.0 C1131.2,1130.5 1136.4,1130.3 1140.8,1130.0 C1145.2,1129.7 1150.4,1128.6 1153.9,1128.3 C1157.4,1128.0 1160.1,1127.5 1162.0,1128.3 C1163.9,1129.1 1164.5,1130.5 1165.3,1133.2 C1166.1,1135.9 1165.3,1142.2 1166.9,1144.7 C1168.5,1147.2 1172.1,1147.9 1175.1,1147.9 C1178.1,1147.9 1181.6,1145.2 1184.9,1144.7 C1188.2,1144.2 1192.0,1144.4 1194.7,1144.7 C1197.4,1145.0 1199.3,1146.6 1201.2,1146.3 C1203.1,1146.0 1205.0,1145.5 1206.1,1143.0 C1207.2,1140.5 1207.4,1135.1 1207.7,1131.6 C1208.0,1128.1 1207.2,1124.0 1207.7,1121.8 C1208.2,1119.6 1209.4,1118.2 1211.0,1118.5 C1212.6,1118.8 1214.8,1121.5 1217.5,1123.4 C1220.2,1125.3 1224.0,1128.6 1227.3,1130.0 C1230.6,1131.4 1234.4,1130.0 1237.1,1131.6 C1239.8,1133.2 1241.7,1137.1 1243.6,1139.8 C1245.5,1142.5 1247.7,1146.6 1248.5,1147.9"/>
<path d="M1289.6,900.9 C1290.8,900.6 1294.6,900.2 1296.6,899.2 C1298.6,898.2 1300.1,895.8 1301.8,894.8 C1303.5,893.8 1305.3,893.6 1307.0,893.5 C1308.7,893.4 1310.8,894.8 1312.2,894.4 C1313.7,894.0 1315.1,891.9 1315.7,891.4"/>
<path d="M1360.5,916.7 C1360.9,918.2 1363.1,922.5 1362.7,925.4 C1362.3,928.3 1359.2,931.6 1358.3,934.1 C1357.4,936.6 1357.5,939.5 1357.3,940.6"/>
<path d="M1454.0,895.0 C1455.8,895.7 1461.3,899.7 1465.0,899.3 C1468.7,898.9 1472.3,893.7 1475.9,892.8 C1479.5,891.9 1482.0,893.3 1486.7,893.8 C1491.4,894.3 1500.6,896.5 1504.2,896.0 C1507.8,895.5 1506.7,891.9 1508.5,890.6 C1510.3,889.3 1513.2,889.9 1515.0,888.4 C1516.8,886.9 1518.3,884.4 1519.4,881.9 C1520.5,879.4 1519.8,876.5 1521.6,873.2 C1523.4,869.9 1527.0,865.2 1530.3,862.3 C1533.6,859.4 1537.2,857.6 1541.2,855.8 C1545.2,854.0 1550.6,853.6 1554.2,851.4 C1557.8,849.2 1560.0,844.9 1562.9,842.7 C1565.8,840.5 1568.7,840.1 1571.6,838.3 C1574.5,836.5 1577.4,833.2 1580.3,831.8 C1583.2,830.3 1585.7,830.0 1589.0,829.6 C1592.3,829.2 1597.0,830.7 1599.9,829.6 C1602.8,828.5 1606.0,822.4 1606.4,823.1 C1606.8,823.8 1603.9,830.7 1602.1,834.0 C1600.3,837.3 1596.0,839.4 1595.6,842.7 C1595.2,846.0 1598.8,850.0 1599.9,853.6 C1601.0,857.2 1603.2,862.0 1602.1,864.5 C1601.0,867.0 1596.3,867.3 1593.4,868.8 C1590.5,870.2 1586.9,871.4 1584.7,873.2 C1582.5,875.0 1582.5,877.9 1580.3,879.7 C1578.1,881.5 1574.9,882.5 1571.6,884.0 C1568.3,885.5 1562.9,886.6 1560.7,888.4 C1558.5,890.2 1558.9,893.8 1558.6,894.9"/>
<path d="M1558.6,894.9 C1557.9,896.0 1556.4,899.3 1554.2,901.5 C1552.0,903.7 1548.4,906.2 1545.5,908.0 C1542.6,909.8 1538.6,910.1 1536.8,912.3 C1535.0,914.5 1535.7,918.1 1534.6,921.0 C1533.5,923.9 1531.4,926.4 1530.3,929.7 C1529.2,933.0 1529.9,937.3 1528.1,940.6 C1526.3,943.9 1522.3,946.8 1519.4,949.3 C1516.5,951.8 1512.5,953.7 1510.7,955.9 C1508.9,958.1 1507.8,960.2 1508.5,962.4 C1509.2,964.6 1513.9,967.8 1515.0,968.9"/>
<path d="M1515.0,968.9 C1516.1,969.6 1519.8,974.0 1521.6,973.3 C1523.4,972.6 1523.7,966.8 1525.9,964.6 C1528.1,962.4 1531.3,961.7 1534.6,960.2 C1537.9,958.8 1542.6,957.4 1545.5,955.9 C1548.4,954.4 1550.2,953.3 1552.0,951.5 C1553.8,949.7 1555.0,944.3 1556.4,945.0 C1557.9,945.7 1559.6,953.7 1560.7,955.9 C1561.8,958.1 1562.6,957.6 1563.0,958.0"/>
<path d="M1515.0,968.9 C1514.3,970.7 1512.2,976.2 1510.7,979.8 C1509.2,983.4 1507.8,987.1 1506.3,990.7 C1504.8,994.3 1503.1,998.3 1502.0,1001.6 C1500.9,1004.9 1500.5,1007.8 1499.8,1010.3 C1499.1,1012.8 1497.6,1013.9 1497.6,1016.8 C1497.6,1019.7 1497.6,1025.5 1499.8,1027.7 C1502.0,1029.9 1507.4,1029.4 1510.7,1029.9 C1514.0,1030.5 1518.0,1030.8 1519.4,1031.0"/>
<path d="M1497.6,1016.8 C1496.1,1016.1 1491.1,1012.9 1488.9,1012.5 C1486.7,1012.1 1486.0,1012.4 1484.6,1014.6 C1483.1,1016.8 1481.7,1023.3 1480.2,1025.5 C1478.8,1027.7 1477.4,1026.6 1475.9,1027.7 C1474.5,1028.8 1472.4,1029.5 1471.5,1032.0 C1470.6,1034.5 1470.3,1040.0 1470.3,1042.9 C1470.3,1045.8 1471.3,1048.3 1471.5,1049.4"/>
<path d="M1364.9,953.7 C1367.4,953.3 1377.2,952.6 1380.1,951.5 C1383.0,950.4 1377.9,947.8 1382.3,947.2 C1386.7,946.7 1401.5,946.8 1406.2,948.2 C1410.9,949.7 1407.0,955.4 1410.6,955.9 C1414.2,956.4 1424.4,953.3 1428.0,951.5 C1431.6,949.7 1430.1,946.1 1432.3,945.0 C1434.5,943.9 1438.1,946.5 1441.0,945.0 C1443.9,943.5 1447.6,937.4 1449.8,936.3 C1452.0,935.2 1452.6,936.0 1454.1,938.5 C1455.5,941.0 1456.0,948.2 1458.5,951.5 C1461.0,954.8 1465.7,955.8 1469.3,958.0 C1472.9,960.2 1477.8,962.1 1480.2,964.6 C1482.6,967.1 1483.5,970.4 1483.5,973.3 C1483.5,976.2 1481.8,980.2 1480.2,982.0 C1478.6,983.8 1474.8,983.8 1473.7,984.2"/>
<path d="M712.0,1592.6 C713.8,1592.9 720.0,1593.2 722.6,1594.3 C725.2,1595.4 725.3,1597.0 727.5,1599.2 C729.7,1601.4 733.2,1604.6 735.7,1607.3 C738.2,1610.0 739.5,1613.6 742.2,1615.5 C744.9,1617.4 749.3,1617.4 752.0,1618.8 C754.7,1620.2 756.3,1621.8 758.5,1623.7 C760.7,1625.6 763.2,1628.6 765.1,1630.2 C767.0,1631.8 767.8,1632.6 770.0,1633.4 C772.2,1634.2 776.8,1634.8 778.1,1635.1"/>
<path d="M778.1,1635.1 C779.7,1635.9 784.9,1639.7 787.9,1640.0 C790.9,1640.3 793.4,1637.8 796.1,1636.7 C798.8,1635.6 801.2,1634.0 804.2,1633.4 C807.2,1632.9 810.5,1634.2 814.0,1633.4 C817.5,1632.6 822.2,1630.4 825.5,1628.5 C828.8,1626.6 831.7,1623.9 833.6,1622.0 C835.5,1620.1 837.7,1618.4 836.9,1617.1 C836.1,1615.8 830.6,1615.0 828.7,1613.9 C826.8,1612.8 825.2,1612.2 825.5,1610.6 C825.8,1609.0 829.6,1606.3 830.4,1604.1 C831.2,1601.9 829.9,1599.7 830.4,1597.5 C830.9,1595.3 832.0,1592.6 833.6,1591.0 C835.2,1589.4 837.8,1588.2 840.2,1587.7 C842.7,1587.2 845.6,1587.2 848.3,1587.7 C851.0,1588.2 854.3,1589.9 856.5,1591.0 C858.7,1592.1 858.9,1593.8 861.4,1594.3 C863.9,1594.8 869.3,1595.4 871.2,1594.3 C873.1,1593.2 873.1,1589.3 872.8,1587.7 C872.5,1586.1 870.0,1585.0 869.5,1584.5"/>
<path d="M869.5,1584.5 C870.9,1583.7 875.0,1581.0 877.7,1579.6 C880.4,1578.2 882.9,1576.8 885.9,1576.3 C888.9,1575.8 892.6,1576.0 895.6,1576.3 C898.6,1576.6 901.3,1578.3 903.8,1578.0 C906.2,1577.7 908.4,1576.3 910.3,1574.7 C912.2,1573.1 913.3,1570.1 915.2,1568.2 C917.1,1566.3 919.3,1563.8 921.8,1563.3 C924.2,1562.8 927.5,1564.4 929.9,1564.9 C932.3,1565.4 933.9,1566.5 936.4,1566.5 C938.9,1566.5 942.7,1565.4 944.6,1564.9 C946.5,1564.4 946.8,1564.1 947.9,1563.3 C949.0,1562.5 949.8,1561.0 951.1,1560.0 C952.5,1559.0 955.2,1557.5 956.0,1557.0"/>
<path d="M778.1,1635.1 C777.0,1636.2 772.1,1639.7 771.6,1641.6 C771.1,1643.5 773.3,1644.9 774.9,1646.5 C776.5,1648.1 779.2,1649.8 781.4,1651.4 C783.6,1653.0 786.0,1654.7 787.9,1656.3 C789.8,1657.9 791.8,1659.2 792.8,1661.2 C793.8,1663.2 793.5,1665.3 794.0,1668.0 C794.5,1670.7 795.5,1674.3 796.1,1677.5 C796.7,1680.7 796.4,1683.2 797.7,1687.3 C799.1,1691.4 801.5,1699.3 804.2,1702.0 C806.9,1704.7 812.4,1701.7 814.0,1703.6 C815.6,1705.5 814.3,1710.1 814.0,1713.4 C813.7,1716.7 812.4,1720.2 812.4,1723.2 C812.4,1726.2 812.9,1728.7 814.0,1731.4 C815.1,1734.1 818.6,1736.8 818.9,1739.5 C819.2,1742.2 816.8,1745.0 815.7,1747.7 C814.6,1750.4 813.2,1752.9 812.4,1755.9 C811.6,1758.9 810.5,1762.6 810.8,1765.6 C811.1,1768.6 813.2,1771.1 814.0,1773.8 C814.8,1776.5 815.7,1780.1 815.7,1782.0 C815.7,1783.9 815.4,1783.9 814.0,1785.2 C812.6,1786.5 808.6,1789.3 807.5,1790.1"/>
</g>
<g fill="none" stroke="#21448f" stroke-width="4.2" stroke-linejoin="miter">
<polyline points="468.9,664.5 751,664.5 751,708.3"/>
<polyline points="425.2,802.7 770.5,802.7"/>
<polyline points="452.6,914.4 670.8,914.4 670.8,967.7"/>
<polyline points="357.8,1074.7 562.2,1074.7 562.2,1127"/>
<polyline points="522.4,1280.2 741,1280.2 741,1306.5"/>
<polyline points="602.2,1528.8 765.4,1528.8 765.4,1558"/>
<polyline points="644.5,1669.4 793,1669.4 793,1711.5"/>
<polyline points="1007.9,588 823.6,588 823.6,883.9"/>
<polyline points="924.3,755.9 1037.8,755.9"/>
<polyline points="1137.8,818.6 929.5,818.6 929.5,906.3"/>
<polyline points="1162.4,1002.4 1162.4,1169.6 1346.6,1169.6"/>
<polyline points="1260.7,1086.3 1260.7,1295.4 1357.3,1295.4"/>
<polyline points="870.6,1405 1108.2,1405"/>
<polyline points="900.6,1509.4 1081.4,1509.4"/>
<polyline points="870.6,1724 870.6,1681.4 1018.3,1681.4"/>
</g>
<g fill="#21448f">
<circle cx="751.3" cy="708.3" r="15.8"/>
<circle cx="770.5" cy="802.9" r="15.8"/>
<circle cx="670.8" cy="967.7" r="15.8"/>
<circle cx="562.2" cy="1127" r="15.8"/>
<circle cx="741" cy="1306.5" r="15.8"/>
<circle cx="765.4" cy="1558" r="15.8"/>
<circle cx="793" cy="1711.5" r="15.8"/>
<circle cx="823.4" cy="883.9" r="15.8"/>
<circle cx="924.3" cy="756" r="15.8"/>
<circle cx="930.1" cy="906.3" r="15.8"/>
<circle cx="1162.4" cy="1002.4" r="15.8"/>
<circle cx="1260.7" cy="1086.3" r="15.8"/>
<circle cx="870.6" cy="1407" r="15.8"/>
<circle cx="900.6" cy="1509.4" r="15.8"/>
<circle cx="870.6" cy="1724" r="15.8"/>
</g>
<text x="339.8" y="618.1" font-size="41" font-weight="400" fill="#0b1a2e" textLength="148.2" lengthAdjust="spacingAndGlyphs" stroke="#0b1a2e" stroke-width="0.35">Punjab</text>
<text x="340.44" y="668.8" font-size="41" font-weight="700" fill="#0b1a2e" textLength="99.31" lengthAdjust="spacingAndGlyphs" >4.2%</text>
<text x="264.26" y="788.1" font-size="41" font-weight="400" fill="#0b1a2e" textLength="167.74" lengthAdjust="spacingAndGlyphs" stroke="#0b1a2e" stroke-width="0.35">Haryana</text>
<text x="263.03" y="837.9" font-size="41" font-weight="700" fill="#0b1a2e" textLength="96.48" lengthAdjust="spacingAndGlyphs" >2.9%</text>
<text x="226.37" y="928.9" font-size="41" font-weight="400" fill="#0b1a2e" textLength="204.78" lengthAdjust="spacingAndGlyphs" stroke="#0b1a2e" stroke-width="0.35">Rajasthan</text>
<text x="224.09" y="978.8" font-size="41" font-weight="700" fill="#0b1a2e" textLength="87.32" lengthAdjust="spacingAndGlyphs" >1.5%</text>
<text x="185.51" y="1083.8" font-size="41" font-weight="400" fill="#0b1a2e" textLength="149.12" lengthAdjust="spacingAndGlyphs" stroke="#0b1a2e" stroke-width="0.35">Gujarat</text>
<text x="185.42" y="1134.8" font-size="41" font-weight="700" fill="#0b1a2e" textLength="97.1" lengthAdjust="spacingAndGlyphs" >3.9%</text>
<text x="249.19" y="1286.9" font-size="41" font-weight="400" fill="#0b6ff3" textLength="253.91" lengthAdjust="spacingAndGlyphs" stroke="#0b6ff3" stroke-width="0.35">Maharashtra</text>
<text x="248.03" y="1338.2" font-size="41" font-weight="700" fill="#0b6ff3" textLength="120.29" lengthAdjust="spacingAndGlyphs" >20.5%</text>
<text x="383.18" y="1532.9" font-size="41" font-weight="400" fill="#0b1a2e" textLength="206.62" lengthAdjust="spacingAndGlyphs" stroke="#0b1a2e" stroke-width="0.35">Karnataka</text>
<text x="382.0" y="1582.9" font-size="41" font-weight="700" fill="#0b1a2e" textLength="95.51" lengthAdjust="spacingAndGlyphs" >7.7%</text>
<text x="512.51" y="1681.9" font-size="41" font-weight="400" fill="#0b6ff3" textLength="123.09" lengthAdjust="spacingAndGlyphs" stroke="#0b6ff3" stroke-width="0.35">Kerala</text>
<text x="509.67" y="1731.8" font-size="41" font-weight="700" fill="#0b6ff3" textLength="113.68" lengthAdjust="spacingAndGlyphs" >19.7%</text>
<text x="1008.12" y="583.8" font-size="41" font-weight="400" fill="#0b1a2e" textLength="107.87" lengthAdjust="spacingAndGlyphs" stroke="#0b1a2e" stroke-width="0.35">Delhi</text>
<text x="1008.55" y="633.8" font-size="41" font-weight="700" fill="#0b1a2e" textLength="97.98" lengthAdjust="spacingAndGlyphs" >4.3%</text>
<text x="1046.13" y="710.8" font-size="41" font-weight="400" fill="#0b1a2e" textLength="259.34" lengthAdjust="spacingAndGlyphs" stroke="#0b1a2e" stroke-width="0.35">Uttarakhand</text>
<text x="1044.21" y="761.6" font-size="41" font-weight="700" fill="#0b1a2e" textLength="79.31" lengthAdjust="spacingAndGlyphs" >1.1%</text>
<text x="1147.05" y="811.2" font-size="41" font-weight="400" fill="#0b1a2e" textLength="284.04" lengthAdjust="spacingAndGlyphs" stroke="#0b1a2e" stroke-width="0.35">Uttar Pradesh</text>
<text x="1146.35" y="861.8" font-size="41" font-weight="700" fill="#0b1a2e" textLength="60.05" lengthAdjust="spacingAndGlyphs" >3%</text>
<text x="1358.08" y="1181.9" font-size="41" font-weight="400" fill="#0b1a2e" textLength="108.69" lengthAdjust="spacingAndGlyphs" stroke="#0b1a2e" stroke-width="0.35">Bihar</text>
<text x="1355.48" y="1231.8" font-size="41" font-weight="700" fill="#0b1a2e" textLength="87.64" lengthAdjust="spacingAndGlyphs" >1.3%</text>
<text x="1364.6" y="1317.3" font-size="41" font-weight="400" fill="#0b1a2e" textLength="259.98" lengthAdjust="spacingAndGlyphs" stroke="#0b1a2e" stroke-width="0.35">West Bengal</text>
<text x="1362.26" y="1368.7" font-size="41" font-weight="700" fill="#0b1a2e" textLength="94.74" lengthAdjust="spacingAndGlyphs" >2.3%</text>
<text x="1107.48" y="1397.5" font-size="41" font-weight="400" fill="#0b1a2e" textLength="210.52" lengthAdjust="spacingAndGlyphs" stroke="#0b1a2e" stroke-width="0.35">Telangana</text>
<text x="1108.18" y="1449.1" font-size="41" font-weight="700" fill="#0b1a2e" textLength="87.94" lengthAdjust="spacingAndGlyphs" >8.1%</text>
<text x="1074.31" y="1550.7" font-size="41" font-weight="400" fill="#0b1a2e" textLength="328.64" lengthAdjust="spacingAndGlyphs" stroke="#0b1a2e" stroke-width="0.35">Andhra Pradesh</text>
<text x="1074.13" y="1601.7" font-size="41" font-weight="700" fill="#0b1a2e" textLength="101.24" lengthAdjust="spacingAndGlyphs" >4.4%</text>
<text x="1016.34" y="1699" font-size="41" font-weight="400" fill="#0b1a2e" textLength="235.99" lengthAdjust="spacingAndGlyphs" stroke="#0b1a2e" stroke-width="0.35">Tamil Nadu</text>
<text x="1014.79" y="1749.1" font-size="41" font-weight="700" fill="#0b1a2e" textLength="117.3" lengthAdjust="spacingAndGlyphs" >10.4%</text>
<text x="41.58" y="1863" font-size="33.9" font-weight="400" font-style="italic" fill="#0b1a2e" textLength="184.53" lengthAdjust="spacingAndGlyphs" >Source:RBI</text>
<rect x="0" y="1896.7" width="1838" height="5.5" fill="#c9ccd9"/>
<rect x="749.6" y="1863.1" width="325.2" height="72.4" rx="36.2" ry="36.2" fill="#0c1a5b"/>
<rect x="789.2" y="1885.5" width="6.2" height="17.8" fill="#fff"/>
<rect x="789.2" y="1907.2" width="6.2" height="5.6" fill="#1a8cff"/>
<path d="M799,1885.5 H802.5 A13,13.6 0 0 1 802.5,1912.7 H799 V1906.7 H802.5 A7,7.6 0 0 0 802.5,1891.5 H799 Z" fill="#fff"/>
<text x="822.5" y="1912.7" font-size="37.5" font-weight="700" fill="#fff" textLength="218" lengthAdjust="spacing">ECENTRO</text>
</svg>
</body></html>
